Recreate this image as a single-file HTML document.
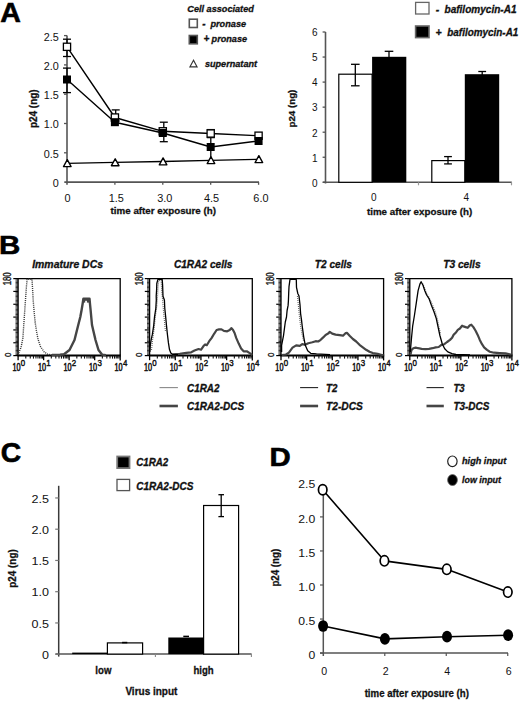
<!DOCTYPE html>
<html><head><meta charset="utf-8"><style>
html,body{margin:0;padding:0;background:#fff;}
svg{display:block;font-family:"Liberation Sans", sans-serif;}
</style></head><body>
<svg width="520" height="702" viewBox="0 0 520 702">
<rect x="0" y="0" width="520" height="702" fill="#fff"/>
<text x="0.2" y="22.4" font-size="27.5" font-weight="bold" font-style="normal" text-anchor="start" fill="#000" textLength="20.6" lengthAdjust="spacingAndGlyphs" stroke="#000" stroke-width="0.6">A</text>
<text x="-0.9" y="253.9" font-size="26.3" font-weight="bold" font-style="normal" text-anchor="start" fill="#000" textLength="21.3" lengthAdjust="spacingAndGlyphs" stroke="#000" stroke-width="0.6">B</text>
<text x="0.8" y="461.9" font-size="27.6" font-weight="bold" font-style="normal" text-anchor="start" fill="#000" textLength="20.4" lengthAdjust="spacingAndGlyphs" stroke="#000" stroke-width="0.6">C</text>
<text x="269.6" y="466.3" font-size="26.3" font-weight="bold" font-style="normal" text-anchor="start" fill="#000" textLength="21.2" lengthAdjust="spacingAndGlyphs" stroke="#000" stroke-width="0.6">D</text>
<line x1="67" y1="35.6" x2="67" y2="184.8" stroke="#555" stroke-width="1.6"/>
<line x1="64.3" y1="182.1" x2="259" y2="182.1" stroke="#555" stroke-width="1.6"/>
<line x1="64.0" y1="152.79999999999998" x2="67" y2="152.79999999999998" stroke="#555" stroke-width="1.3"/>
<line x1="64.0" y1="123.5" x2="67" y2="123.5" stroke="#555" stroke-width="1.3"/>
<line x1="64.0" y1="94.19999999999999" x2="67" y2="94.19999999999999" stroke="#555" stroke-width="1.3"/>
<line x1="64.0" y1="64.89999999999999" x2="67" y2="64.89999999999999" stroke="#555" stroke-width="1.3"/>
<line x1="64.0" y1="35.599999999999994" x2="67" y2="35.599999999999994" stroke="#555" stroke-width="1.3"/>
<line x1="114.895" y1="182.1" x2="114.895" y2="184.8" stroke="#555" stroke-width="1.3"/>
<line x1="162.79" y1="182.1" x2="162.79" y2="184.8" stroke="#555" stroke-width="1.3"/>
<line x1="210.685" y1="182.1" x2="210.685" y2="184.8" stroke="#555" stroke-width="1.3"/>
<line x1="258.58" y1="182.1" x2="258.58" y2="184.8" stroke="#555" stroke-width="1.3"/>
<text x="58.7" y="187.0" font-size="10.3" font-weight="normal" font-style="normal" text-anchor="end" fill="#111" textLength="6.016500000000001" lengthAdjust="spacingAndGlyphs">0</text>
<text x="58.7" y="157.7" font-size="10.3" font-weight="normal" font-style="normal" text-anchor="end" fill="#111" textLength="15.036000000000001" lengthAdjust="spacingAndGlyphs">0.5</text>
<text x="58.7" y="128.4" font-size="10.3" font-weight="normal" font-style="normal" text-anchor="end" fill="#111" textLength="15.036000000000001" lengthAdjust="spacingAndGlyphs">1.0</text>
<text x="58.7" y="99.1" font-size="10.3" font-weight="normal" font-style="normal" text-anchor="end" fill="#111" textLength="15.036000000000001" lengthAdjust="spacingAndGlyphs">1.5</text>
<text x="58.7" y="69.8" font-size="10.3" font-weight="normal" font-style="normal" text-anchor="end" fill="#111" textLength="15.036000000000001" lengthAdjust="spacingAndGlyphs">2.0</text>
<text x="58.7" y="40.49999999999999" font-size="10.3" font-weight="normal" font-style="normal" text-anchor="end" fill="#111" textLength="15.036000000000001" lengthAdjust="spacingAndGlyphs">2.5</text>
<text x="67.5" y="201.6" font-size="10.2" font-weight="normal" font-style="normal" text-anchor="middle" fill="#111" textLength="6.0669" lengthAdjust="spacingAndGlyphs">0</text>
<text x="116.3" y="201.6" font-size="10.2" font-weight="normal" font-style="normal" text-anchor="middle" fill="#111" textLength="15.172600000000001" lengthAdjust="spacingAndGlyphs">1.5</text>
<text x="164.8" y="201.6" font-size="10.2" font-weight="normal" font-style="normal" text-anchor="middle" fill="#111" textLength="15.172600000000001" lengthAdjust="spacingAndGlyphs">3.0</text>
<text x="211.6" y="201.6" font-size="10.2" font-weight="normal" font-style="normal" text-anchor="middle" fill="#111" textLength="15.172600000000001" lengthAdjust="spacingAndGlyphs">4.5</text>
<text x="260.9" y="201.6" font-size="10.2" font-weight="normal" font-style="normal" text-anchor="middle" fill="#111" textLength="15.172600000000001" lengthAdjust="spacingAndGlyphs">6.0</text>
<text x="163.3" y="213.8" font-size="9.8" font-weight="bold" font-style="normal" text-anchor="middle" fill="#111" textLength="105.4" lengthAdjust="spacingAndGlyphs" stroke="#111" stroke-width="0.28">time after exposure (h)</text>
<text transform="translate(36.6,108.7) rotate(-90)" x="0" y="0" font-size="10" font-weight="bold" text-anchor="middle" fill="#111" stroke="#111" stroke-width="0.28" textLength="38.7" lengthAdjust="spacingAndGlyphs">p24 (ng)</text>
<line x1="67" y1="39.2" x2="67" y2="56.5" stroke="#000" stroke-width="1.3"/>
<line x1="63" y1="39.2" x2="71" y2="39.2" stroke="#000" stroke-width="1.3"/>
<line x1="63" y1="56.5" x2="71" y2="56.5" stroke="#000" stroke-width="1.3"/>
<line x1="67" y1="68.1" x2="67" y2="92.6" stroke="#000" stroke-width="1.3"/>
<line x1="63" y1="68.1" x2="71" y2="68.1" stroke="#000" stroke-width="1.3"/>
<line x1="63" y1="92.6" x2="71" y2="92.6" stroke="#000" stroke-width="1.3"/>
<line x1="115.7" y1="109.9" x2="115.7" y2="121" stroke="#000" stroke-width="1.3"/>
<line x1="111.7" y1="109.9" x2="119.7" y2="109.9" stroke="#000" stroke-width="1.3"/>
<line x1="111.7" y1="121" x2="119.7" y2="121" stroke="#000" stroke-width="1.3"/>
<line x1="163.8" y1="122.2" x2="163.8" y2="141.7" stroke="#000" stroke-width="1.3"/>
<line x1="159.8" y1="122.2" x2="167.8" y2="122.2" stroke="#000" stroke-width="1.3"/>
<line x1="159.8" y1="141.7" x2="167.8" y2="141.7" stroke="#000" stroke-width="1.3"/>
<line x1="210.8" y1="129.6" x2="210.8" y2="137.6" stroke="#000" stroke-width="1.3"/>
<line x1="206.8" y1="129.6" x2="214.8" y2="129.6" stroke="#000" stroke-width="1.3"/>
<line x1="206.8" y1="137.6" x2="214.8" y2="137.6" stroke="#000" stroke-width="1.3"/>
<line x1="210.8" y1="137" x2="210.8" y2="157.5" stroke="#000" stroke-width="1.3"/>
<polyline points="67.00,163.30 114.89,162.40 162.79,161.50 210.69,160.30 258.58,159.30" fill="none" stroke="#000" stroke-width="1.3" stroke-linejoin="round"/>
<polyline points="67.00,46.80 114.89,117.50 162.79,131.30 210.69,133.50 258.58,135.70" fill="none" stroke="#000" stroke-width="1.4" stroke-linejoin="round"/>
<polyline points="67.00,79.50 114.89,122.20 162.79,133.00 210.69,147.00 258.58,141.00" fill="none" stroke="#000" stroke-width="1.4" stroke-linejoin="round"/>
<polygon points="67.30,159.70 63.50,166.60 71.10,166.60" fill="#fff" stroke="#000" stroke-width="1.35" stroke-linejoin="round"/>
<polygon points="115.19,158.80 111.39,165.70 118.99,165.70" fill="#fff" stroke="#000" stroke-width="1.35" stroke-linejoin="round"/>
<polygon points="163.09,157.90 159.29,164.80 166.89,164.80" fill="#fff" stroke="#000" stroke-width="1.35" stroke-linejoin="round"/>
<polygon points="210.99,156.70 207.19,163.60 214.78,163.60" fill="#fff" stroke="#000" stroke-width="1.35" stroke-linejoin="round"/>
<polygon points="258.88,155.70 255.08,162.60 262.68,162.60" fill="#fff" stroke="#000" stroke-width="1.35" stroke-linejoin="round"/>
<rect x="63.4" y="43.199999999999996" width="7.2" height="7.2" fill="#fff" stroke="#000" stroke-width="1.3"/>
<rect x="111.295" y="113.9" width="7.2" height="7.2" fill="#fff" stroke="#000" stroke-width="1.3"/>
<rect x="159.19" y="127.70000000000002" width="7.2" height="7.2" fill="#fff" stroke="#000" stroke-width="1.3"/>
<rect x="207.085" y="129.9" width="7.2" height="7.2" fill="#fff" stroke="#000" stroke-width="1.3"/>
<rect x="254.98" y="132.1" width="7.2" height="7.2" fill="#fff" stroke="#000" stroke-width="1.3"/>
<rect x="63.0" y="75.5" width="8" height="8" fill="#000" stroke="none" stroke-width="1"/>
<rect x="110.895" y="118.2" width="8" height="8" fill="#000" stroke="none" stroke-width="1"/>
<rect x="158.79" y="129.0" width="8" height="8" fill="#000" stroke="none" stroke-width="1"/>
<rect x="206.685" y="143.0" width="8" height="8" fill="#000" stroke="none" stroke-width="1"/>
<rect x="254.57999999999998" y="137.0" width="8" height="8" fill="#000" stroke="none" stroke-width="1"/>
<text x="187.3" y="12.0" font-size="9.3" font-weight="bold" font-style="italic" text-anchor="start" fill="#111" textLength="66.5" lengthAdjust="spacingAndGlyphs" stroke="#111" stroke-width="0.3">Cell associated</text>
<rect x="189.3" y="19.2" width="8" height="8.3" fill="#fff" stroke="#555" stroke-width="1.6"/>
<text x="202.2" y="26.5" font-size="10" font-weight="bold" font-style="italic" text-anchor="start" fill="#111" stroke="#111" stroke-width="0.3">-</text>
<text x="210.4" y="26.5" font-size="9.6" font-weight="bold" font-style="italic" text-anchor="start" fill="#111" textLength="35.7" lengthAdjust="spacingAndGlyphs" stroke="#111" stroke-width="0.3">pronase</text>
<rect x="189.3" y="35.5" width="8" height="8.3" fill="#000" stroke="#555" stroke-width="1.6"/>
<text x="203.5" y="42.0" font-size="10" font-weight="bold" font-style="italic" text-anchor="start" fill="#111" stroke="#111" stroke-width="0.3">+</text>
<text x="211.6" y="42.0" font-size="9.6" font-weight="bold" font-style="italic" text-anchor="start" fill="#111" textLength="35.5" lengthAdjust="spacingAndGlyphs" stroke="#111" stroke-width="0.3">pronase</text>
<polygon points="193.5,60.2 189.9,66.9 197.1,66.9" fill="#fff" stroke="#333" stroke-width="1.1"/>
<text x="204.9" y="66.6" font-size="9.4" font-weight="bold" font-style="italic" text-anchor="start" fill="#111" textLength="52.2" lengthAdjust="spacingAndGlyphs" stroke="#111" stroke-width="0.3">supernatant</text>
<line x1="325.5" y1="32" x2="325.5" y2="183.5" stroke="#555" stroke-width="1.6"/>
<line x1="322.8" y1="182.3" x2="511.8" y2="182.3" stroke="#555" stroke-width="1.6"/>
<line x1="322.6" y1="182.3" x2="325.5" y2="182.3" stroke="#555" stroke-width="1.3"/>
<text x="317.6" y="186.60000000000002" font-size="10" font-weight="normal" font-style="normal" text-anchor="end" fill="#111">0</text>
<line x1="322.6" y1="157.25" x2="325.5" y2="157.25" stroke="#555" stroke-width="1.3"/>
<text x="317.6" y="161.55" font-size="10" font-weight="normal" font-style="normal" text-anchor="end" fill="#111">1</text>
<line x1="322.6" y1="132.20000000000002" x2="325.5" y2="132.20000000000002" stroke="#555" stroke-width="1.3"/>
<text x="317.6" y="136.50000000000003" font-size="10" font-weight="normal" font-style="normal" text-anchor="end" fill="#111">2</text>
<line x1="322.6" y1="107.15" x2="325.5" y2="107.15" stroke="#555" stroke-width="1.3"/>
<text x="317.6" y="111.45" font-size="10" font-weight="normal" font-style="normal" text-anchor="end" fill="#111">3</text>
<line x1="322.6" y1="82.10000000000001" x2="325.5" y2="82.10000000000001" stroke="#555" stroke-width="1.3"/>
<text x="317.6" y="86.4" font-size="10" font-weight="normal" font-style="normal" text-anchor="end" fill="#111">4</text>
<line x1="322.6" y1="57.05000000000001" x2="325.5" y2="57.05000000000001" stroke="#555" stroke-width="1.3"/>
<text x="317.6" y="61.35000000000001" font-size="10" font-weight="normal" font-style="normal" text-anchor="end" fill="#111">5</text>
<line x1="322.6" y1="32.0" x2="325.5" y2="32.0" stroke="#555" stroke-width="1.3"/>
<text x="317.6" y="36.3" font-size="10" font-weight="normal" font-style="normal" text-anchor="end" fill="#111">6</text>
<line x1="418.5" y1="182.3" x2="418.5" y2="185.3" stroke="#999" stroke-width="1.2"/>
<line x1="511.5" y1="182.3" x2="511.5" y2="185.3" stroke="#999" stroke-width="1.2"/>
<rect x="338.8" y="74.2" width="33.3" height="108.1" fill="#fff" stroke="#000" stroke-width="1.2"/>
<rect x="372.1" y="56.8" width="34.2" height="125.5" fill="#000" stroke="none" stroke-width="1"/>
<rect x="431.8" y="160.6" width="33.0" height="21.7" fill="#fff" stroke="#000" stroke-width="1.2"/>
<rect x="464.8" y="74.2" width="34.4" height="108.1" fill="#000" stroke="none" stroke-width="1"/>
<line x1="355.3" y1="64.3" x2="355.3" y2="85.8" stroke="#000" stroke-width="1.3"/>
<line x1="351.0" y1="64.3" x2="359.6" y2="64.3" stroke="#000" stroke-width="1.3"/>
<line x1="351.0" y1="85.8" x2="359.6" y2="85.8" stroke="#000" stroke-width="1.3"/>
<line x1="389.0" y1="51.3" x2="389.0" y2="57.5" stroke="#000" stroke-width="1.3"/>
<line x1="384.7" y1="51.3" x2="393.3" y2="51.3" stroke="#000" stroke-width="1.3"/>
<line x1="448.0" y1="156.6" x2="448.0" y2="163.9" stroke="#000" stroke-width="1.3"/>
<line x1="444.1" y1="156.6" x2="451.9" y2="156.6" stroke="#000" stroke-width="1.3"/>
<line x1="444.1" y1="163.9" x2="451.9" y2="163.9" stroke="#000" stroke-width="1.3"/>
<line x1="482.2" y1="71.5" x2="482.2" y2="75" stroke="#000" stroke-width="1.3"/>
<line x1="478.3" y1="71.5" x2="486.1" y2="71.5" stroke="#000" stroke-width="1.3"/>
<text x="373.9" y="201.0" font-size="10" font-weight="normal" font-style="normal" text-anchor="middle" fill="#111">0</text>
<text x="466.2" y="201.0" font-size="10" font-weight="normal" font-style="normal" text-anchor="middle" fill="#111">4</text>
<text x="419.6" y="214.5" font-size="9.8" font-weight="bold" font-style="normal" text-anchor="middle" fill="#111" textLength="105.3" lengthAdjust="spacingAndGlyphs" stroke="#111" stroke-width="0.28">time after exposure (h)</text>
<text transform="translate(295.0,108.6) rotate(-90)" x="0" y="0" font-size="9.5" font-weight="bold" text-anchor="middle" fill="#111" stroke="#111" stroke-width="0.28" textLength="37.8" lengthAdjust="spacingAndGlyphs">p24 (ng)</text>
<rect x="415.6" y="2.4" width="13.4" height="11.6" fill="#fff" stroke="#666" stroke-width="1.3"/>
<text x="435.8" y="12.7" font-size="10.5" font-weight="bold" font-style="italic" text-anchor="start" fill="#111" stroke="#111" stroke-width="0.3">-</text>
<text x="444.5" y="12.7" font-size="10.5" font-weight="bold" font-style="italic" text-anchor="start" fill="#111" textLength="72" lengthAdjust="spacingAndGlyphs" stroke="#111" stroke-width="0.3">bafilomycin-A1</text>
<rect x="415.6" y="26.0" width="13.4" height="11.6" fill="#000" stroke="#666" stroke-width="1.6"/>
<text x="435.4" y="36.0" font-size="10.5" font-weight="bold" font-style="italic" text-anchor="start" fill="#111" stroke="#111" stroke-width="0.3">+</text>
<text x="447.3" y="36.2" font-size="10.5" font-weight="bold" font-style="italic" text-anchor="start" fill="#111" textLength="71.0" lengthAdjust="spacingAndGlyphs" stroke="#111" stroke-width="0.3">bafilomycin-A1</text>
<text x="67.6" y="267.9" font-size="10.1" font-weight="bold" font-style="italic" text-anchor="middle" fill="#111" textLength="70.8" lengthAdjust="spacingAndGlyphs" stroke="#111" stroke-width="0.3">Immature DCs</text>
<path d="M18.1,355.6 L18.1,278.6 L120.2,278.6 L120.2,355.6" fill="none" stroke="#000" stroke-width="1.3"/>
<line x1="17.5" y1="355.6" x2="120.8" y2="355.6" stroke="#000" stroke-width="2.0"/>
<line x1="13.3" y1="355.6" x2="18.1" y2="355.6" stroke="#000" stroke-width="1.2"/>
<line x1="15.500000000000002" y1="354.31666666666666" x2="18.1" y2="354.31666666666666" stroke="#000" stroke-width="0.8"/>
<line x1="15.500000000000002" y1="353.03333333333336" x2="18.1" y2="353.03333333333336" stroke="#000" stroke-width="0.8"/>
<line x1="15.500000000000002" y1="351.75" x2="18.1" y2="351.75" stroke="#000" stroke-width="0.8"/>
<line x1="15.500000000000002" y1="350.4666666666667" x2="18.1" y2="350.4666666666667" stroke="#000" stroke-width="0.8"/>
<line x1="15.500000000000002" y1="349.18333333333334" x2="18.1" y2="349.18333333333334" stroke="#000" stroke-width="0.8"/>
<line x1="15.500000000000002" y1="347.90000000000003" x2="18.1" y2="347.90000000000003" stroke="#000" stroke-width="0.8"/>
<line x1="15.500000000000002" y1="346.6166666666667" x2="18.1" y2="346.6166666666667" stroke="#000" stroke-width="0.8"/>
<line x1="15.500000000000002" y1="345.33333333333337" x2="18.1" y2="345.33333333333337" stroke="#000" stroke-width="0.8"/>
<line x1="15.500000000000002" y1="344.05" x2="18.1" y2="344.05" stroke="#000" stroke-width="0.8"/>
<line x1="13.3" y1="342.7666666666667" x2="18.1" y2="342.7666666666667" stroke="#000" stroke-width="1.2"/>
<line x1="15.500000000000002" y1="341.48333333333335" x2="18.1" y2="341.48333333333335" stroke="#000" stroke-width="0.8"/>
<line x1="15.500000000000002" y1="340.20000000000005" x2="18.1" y2="340.20000000000005" stroke="#000" stroke-width="0.8"/>
<line x1="15.500000000000002" y1="338.9166666666667" x2="18.1" y2="338.9166666666667" stroke="#000" stroke-width="0.8"/>
<line x1="15.500000000000002" y1="337.6333333333334" x2="18.1" y2="337.6333333333334" stroke="#000" stroke-width="0.8"/>
<line x1="15.500000000000002" y1="336.35" x2="18.1" y2="336.35" stroke="#000" stroke-width="0.8"/>
<line x1="15.500000000000002" y1="335.06666666666666" x2="18.1" y2="335.06666666666666" stroke="#000" stroke-width="0.8"/>
<line x1="15.500000000000002" y1="333.78333333333336" x2="18.1" y2="333.78333333333336" stroke="#000" stroke-width="0.8"/>
<line x1="15.500000000000002" y1="332.5" x2="18.1" y2="332.5" stroke="#000" stroke-width="0.8"/>
<line x1="15.500000000000002" y1="331.2166666666667" x2="18.1" y2="331.2166666666667" stroke="#000" stroke-width="0.8"/>
<line x1="13.3" y1="329.93333333333334" x2="18.1" y2="329.93333333333334" stroke="#000" stroke-width="1.2"/>
<line x1="15.500000000000002" y1="328.65000000000003" x2="18.1" y2="328.65000000000003" stroke="#000" stroke-width="0.8"/>
<line x1="15.500000000000002" y1="327.3666666666667" x2="18.1" y2="327.3666666666667" stroke="#000" stroke-width="0.8"/>
<line x1="15.500000000000002" y1="326.08333333333337" x2="18.1" y2="326.08333333333337" stroke="#000" stroke-width="0.8"/>
<line x1="15.500000000000002" y1="324.8" x2="18.1" y2="324.8" stroke="#000" stroke-width="0.8"/>
<line x1="15.500000000000002" y1="323.5166666666667" x2="18.1" y2="323.5166666666667" stroke="#000" stroke-width="0.8"/>
<line x1="15.500000000000002" y1="322.23333333333335" x2="18.1" y2="322.23333333333335" stroke="#000" stroke-width="0.8"/>
<line x1="15.500000000000002" y1="320.95000000000005" x2="18.1" y2="320.95000000000005" stroke="#000" stroke-width="0.8"/>
<line x1="15.500000000000002" y1="319.6666666666667" x2="18.1" y2="319.6666666666667" stroke="#000" stroke-width="0.8"/>
<line x1="15.500000000000002" y1="318.3833333333333" x2="18.1" y2="318.3833333333333" stroke="#000" stroke-width="0.8"/>
<line x1="13.3" y1="317.1" x2="18.1" y2="317.1" stroke="#000" stroke-width="1.2"/>
<line x1="15.500000000000002" y1="315.8166666666667" x2="18.1" y2="315.8166666666667" stroke="#000" stroke-width="0.8"/>
<line x1="15.500000000000002" y1="314.53333333333336" x2="18.1" y2="314.53333333333336" stroke="#000" stroke-width="0.8"/>
<line x1="15.500000000000002" y1="313.25" x2="18.1" y2="313.25" stroke="#000" stroke-width="0.8"/>
<line x1="15.500000000000002" y1="311.9666666666667" x2="18.1" y2="311.9666666666667" stroke="#000" stroke-width="0.8"/>
<line x1="15.500000000000002" y1="310.68333333333334" x2="18.1" y2="310.68333333333334" stroke="#000" stroke-width="0.8"/>
<line x1="15.500000000000002" y1="309.40000000000003" x2="18.1" y2="309.40000000000003" stroke="#000" stroke-width="0.8"/>
<line x1="15.500000000000002" y1="308.1166666666667" x2="18.1" y2="308.1166666666667" stroke="#000" stroke-width="0.8"/>
<line x1="15.500000000000002" y1="306.83333333333337" x2="18.1" y2="306.83333333333337" stroke="#000" stroke-width="0.8"/>
<line x1="15.500000000000002" y1="305.55" x2="18.1" y2="305.55" stroke="#000" stroke-width="0.8"/>
<line x1="13.3" y1="304.2666666666667" x2="18.1" y2="304.2666666666667" stroke="#000" stroke-width="1.2"/>
<line x1="15.500000000000002" y1="302.98333333333335" x2="18.1" y2="302.98333333333335" stroke="#000" stroke-width="0.8"/>
<line x1="15.500000000000002" y1="301.70000000000005" x2="18.1" y2="301.70000000000005" stroke="#000" stroke-width="0.8"/>
<line x1="15.500000000000002" y1="300.4166666666667" x2="18.1" y2="300.4166666666667" stroke="#000" stroke-width="0.8"/>
<line x1="15.500000000000002" y1="299.1333333333333" x2="18.1" y2="299.1333333333333" stroke="#000" stroke-width="0.8"/>
<line x1="15.500000000000002" y1="297.85" x2="18.1" y2="297.85" stroke="#000" stroke-width="0.8"/>
<line x1="15.500000000000002" y1="296.5666666666667" x2="18.1" y2="296.5666666666667" stroke="#000" stroke-width="0.8"/>
<line x1="15.500000000000002" y1="295.28333333333336" x2="18.1" y2="295.28333333333336" stroke="#000" stroke-width="0.8"/>
<line x1="15.500000000000002" y1="294.0" x2="18.1" y2="294.0" stroke="#000" stroke-width="0.8"/>
<line x1="15.500000000000002" y1="292.7166666666667" x2="18.1" y2="292.7166666666667" stroke="#000" stroke-width="0.8"/>
<line x1="13.3" y1="291.43333333333334" x2="18.1" y2="291.43333333333334" stroke="#000" stroke-width="1.2"/>
<line x1="15.500000000000002" y1="290.15000000000003" x2="18.1" y2="290.15000000000003" stroke="#000" stroke-width="0.8"/>
<line x1="15.500000000000002" y1="288.8666666666667" x2="18.1" y2="288.8666666666667" stroke="#000" stroke-width="0.8"/>
<line x1="15.500000000000002" y1="287.58333333333337" x2="18.1" y2="287.58333333333337" stroke="#000" stroke-width="0.8"/>
<line x1="15.500000000000002" y1="286.3" x2="18.1" y2="286.3" stroke="#000" stroke-width="0.8"/>
<line x1="15.500000000000002" y1="285.0166666666667" x2="18.1" y2="285.0166666666667" stroke="#000" stroke-width="0.8"/>
<line x1="15.500000000000002" y1="283.73333333333335" x2="18.1" y2="283.73333333333335" stroke="#000" stroke-width="0.8"/>
<line x1="15.500000000000002" y1="282.45000000000005" x2="18.1" y2="282.45000000000005" stroke="#000" stroke-width="0.8"/>
<line x1="15.500000000000002" y1="281.1666666666667" x2="18.1" y2="281.1666666666667" stroke="#000" stroke-width="0.8"/>
<line x1="15.500000000000002" y1="279.8833333333333" x2="18.1" y2="279.8833333333333" stroke="#000" stroke-width="0.8"/>
<line x1="13.3" y1="278.6" x2="18.1" y2="278.6" stroke="#000" stroke-width="1.2"/>
<line x1="18.1" y1="355.6" x2="18.1" y2="360.20000000000005" stroke="#000" stroke-width="1.3"/>
<line x1="25.783790639323122" y1="355.6" x2="25.783790639323122" y2="358.6" stroke="#111" stroke-width="1.1"/>
<line x1="30.278520026719384" y1="355.6" x2="30.278520026719384" y2="358.6" stroke="#111" stroke-width="1.1"/>
<line x1="33.46758127864624" y1="355.6" x2="33.46758127864624" y2="358.6" stroke="#111" stroke-width="1.1"/>
<line x1="35.94120936067688" y1="355.6" x2="35.94120936067688" y2="358.6" stroke="#111" stroke-width="1.1"/>
<line x1="37.962310666042505" y1="355.6" x2="37.962310666042505" y2="358.6" stroke="#111" stroke-width="1.1"/>
<line x1="39.6711274713639" y1="355.6" x2="39.6711274713639" y2="358.6" stroke="#111" stroke-width="1.1"/>
<line x1="41.15137191796936" y1="355.6" x2="41.15137191796936" y2="358.6" stroke="#111" stroke-width="1.1"/>
<line x1="42.45704005343877" y1="355.6" x2="42.45704005343877" y2="358.6" stroke="#111" stroke-width="1.1"/>
<line x1="43.625" y1="355.6" x2="43.625" y2="360.20000000000005" stroke="#000" stroke-width="1.3"/>
<line x1="51.30879063932312" y1="355.6" x2="51.30879063932312" y2="358.6" stroke="#111" stroke-width="1.1"/>
<line x1="55.80352002671938" y1="355.6" x2="55.80352002671938" y2="358.6" stroke="#111" stroke-width="1.1"/>
<line x1="58.99258127864624" y1="355.6" x2="58.99258127864624" y2="358.6" stroke="#111" stroke-width="1.1"/>
<line x1="61.46620936067688" y1="355.6" x2="61.46620936067688" y2="358.6" stroke="#111" stroke-width="1.1"/>
<line x1="63.487310666042504" y1="355.6" x2="63.487310666042504" y2="358.6" stroke="#111" stroke-width="1.1"/>
<line x1="65.19612747136391" y1="355.6" x2="65.19612747136391" y2="358.6" stroke="#111" stroke-width="1.1"/>
<line x1="66.67637191796936" y1="355.6" x2="66.67637191796936" y2="358.6" stroke="#111" stroke-width="1.1"/>
<line x1="67.98204005343877" y1="355.6" x2="67.98204005343877" y2="358.6" stroke="#111" stroke-width="1.1"/>
<line x1="69.15" y1="355.6" x2="69.15" y2="360.20000000000005" stroke="#000" stroke-width="1.3"/>
<line x1="76.83379063932313" y1="355.6" x2="76.83379063932313" y2="358.6" stroke="#111" stroke-width="1.1"/>
<line x1="81.32852002671939" y1="355.6" x2="81.32852002671939" y2="358.6" stroke="#111" stroke-width="1.1"/>
<line x1="84.51758127864625" y1="355.6" x2="84.51758127864625" y2="358.6" stroke="#111" stroke-width="1.1"/>
<line x1="86.99120936067686" y1="355.6" x2="86.99120936067686" y2="358.6" stroke="#111" stroke-width="1.1"/>
<line x1="89.01231066604251" y1="355.6" x2="89.01231066604251" y2="358.6" stroke="#111" stroke-width="1.1"/>
<line x1="90.7211274713639" y1="355.6" x2="90.7211274713639" y2="358.6" stroke="#111" stroke-width="1.1"/>
<line x1="92.20137191796937" y1="355.6" x2="92.20137191796937" y2="358.6" stroke="#111" stroke-width="1.1"/>
<line x1="93.50704005343877" y1="355.6" x2="93.50704005343877" y2="358.6" stroke="#111" stroke-width="1.1"/>
<line x1="94.67499999999998" y1="355.6" x2="94.67499999999998" y2="360.20000000000005" stroke="#000" stroke-width="1.3"/>
<line x1="102.35879063932313" y1="355.6" x2="102.35879063932313" y2="358.6" stroke="#111" stroke-width="1.1"/>
<line x1="106.8535200267194" y1="355.6" x2="106.8535200267194" y2="358.6" stroke="#111" stroke-width="1.1"/>
<line x1="110.04258127864625" y1="355.6" x2="110.04258127864625" y2="358.6" stroke="#111" stroke-width="1.1"/>
<line x1="112.51620936067687" y1="355.6" x2="112.51620936067687" y2="358.6" stroke="#111" stroke-width="1.1"/>
<line x1="114.53731066604252" y1="355.6" x2="114.53731066604252" y2="358.6" stroke="#111" stroke-width="1.1"/>
<line x1="116.2461274713639" y1="355.6" x2="116.2461274713639" y2="358.6" stroke="#111" stroke-width="1.1"/>
<line x1="117.72637191796937" y1="355.6" x2="117.72637191796937" y2="358.6" stroke="#111" stroke-width="1.1"/>
<line x1="119.03204005343875" y1="355.6" x2="119.03204005343875" y2="358.6" stroke="#111" stroke-width="1.1"/>
<line x1="120.2" y1="355.6" x2="120.2" y2="360.40000000000003" stroke="#000" stroke-width="1.3"/>
<text x="16.5" y="370.7" font-size="10.3" font-weight="normal" font-style="normal" text-anchor="middle" fill="#111" textLength="8.1" lengthAdjust="spacingAndGlyphs" stroke="#111" stroke-width="0.55">10</text>
<text x="23.0" y="365.5" font-size="9.4" font-weight="normal" font-style="normal" text-anchor="middle" fill="#111" textLength="4.4" lengthAdjust="spacingAndGlyphs" stroke="#111" stroke-width="0.45">0</text>
<text x="42.025" y="370.7" font-size="10.3" font-weight="normal" font-style="normal" text-anchor="middle" fill="#111" textLength="8.1" lengthAdjust="spacingAndGlyphs" stroke="#111" stroke-width="0.55">10</text>
<text x="48.525" y="365.5" font-size="9.4" font-weight="normal" font-style="normal" text-anchor="middle" fill="#111" textLength="4.4" lengthAdjust="spacingAndGlyphs" stroke="#111" stroke-width="0.45">1</text>
<text x="67.55000000000001" y="370.7" font-size="10.3" font-weight="normal" font-style="normal" text-anchor="middle" fill="#111" textLength="8.1" lengthAdjust="spacingAndGlyphs" stroke="#111" stroke-width="0.55">10</text>
<text x="74.05000000000001" y="365.5" font-size="9.4" font-weight="normal" font-style="normal" text-anchor="middle" fill="#111" textLength="4.4" lengthAdjust="spacingAndGlyphs" stroke="#111" stroke-width="0.45">2</text>
<text x="93.07499999999999" y="370.7" font-size="10.3" font-weight="normal" font-style="normal" text-anchor="middle" fill="#111" textLength="8.1" lengthAdjust="spacingAndGlyphs" stroke="#111" stroke-width="0.55">10</text>
<text x="99.57499999999999" y="365.5" font-size="9.4" font-weight="normal" font-style="normal" text-anchor="middle" fill="#111" textLength="4.4" lengthAdjust="spacingAndGlyphs" stroke="#111" stroke-width="0.45">3</text>
<text x="118.6" y="370.7" font-size="10.3" font-weight="normal" font-style="normal" text-anchor="middle" fill="#111" textLength="8.1" lengthAdjust="spacingAndGlyphs" stroke="#111" stroke-width="0.55">10</text>
<text x="125.1" y="365.5" font-size="9.4" font-weight="normal" font-style="normal" text-anchor="middle" fill="#111" textLength="4.4" lengthAdjust="spacingAndGlyphs" stroke="#111" stroke-width="0.45">4</text>
<text transform="translate(11.200000000000001,278.8) rotate(-90)" font-size="10" text-anchor="middle" fill="#111" stroke="#111" stroke-width="0.35" textLength="12.9" lengthAdjust="spacingAndGlyphs">180</text>
<text transform="translate(10.700000000000001,354.70000000000005) rotate(-90)" font-size="9.2" text-anchor="middle" fill="#111" stroke="#111" stroke-width="0.35" textLength="4.4" lengthAdjust="spacingAndGlyphs">0</text>
<text x="203.2" y="267.9" font-size="10.1" font-weight="bold" font-style="italic" text-anchor="middle" fill="#111" textLength="58.6" lengthAdjust="spacingAndGlyphs" stroke="#111" stroke-width="0.3">C1RA2 cells</text>
<path d="M149.6,355.6 L149.6,278.6 L252.3,278.6 L252.3,355.6" fill="none" stroke="#000" stroke-width="1.3"/>
<line x1="149.0" y1="355.6" x2="252.9" y2="355.6" stroke="#000" stroke-width="2.0"/>
<line x1="144.79999999999998" y1="355.6" x2="149.6" y2="355.6" stroke="#000" stroke-width="1.2"/>
<line x1="147.0" y1="354.31666666666666" x2="149.6" y2="354.31666666666666" stroke="#000" stroke-width="0.8"/>
<line x1="147.0" y1="353.03333333333336" x2="149.6" y2="353.03333333333336" stroke="#000" stroke-width="0.8"/>
<line x1="147.0" y1="351.75" x2="149.6" y2="351.75" stroke="#000" stroke-width="0.8"/>
<line x1="147.0" y1="350.4666666666667" x2="149.6" y2="350.4666666666667" stroke="#000" stroke-width="0.8"/>
<line x1="147.0" y1="349.18333333333334" x2="149.6" y2="349.18333333333334" stroke="#000" stroke-width="0.8"/>
<line x1="147.0" y1="347.90000000000003" x2="149.6" y2="347.90000000000003" stroke="#000" stroke-width="0.8"/>
<line x1="147.0" y1="346.6166666666667" x2="149.6" y2="346.6166666666667" stroke="#000" stroke-width="0.8"/>
<line x1="147.0" y1="345.33333333333337" x2="149.6" y2="345.33333333333337" stroke="#000" stroke-width="0.8"/>
<line x1="147.0" y1="344.05" x2="149.6" y2="344.05" stroke="#000" stroke-width="0.8"/>
<line x1="144.79999999999998" y1="342.7666666666667" x2="149.6" y2="342.7666666666667" stroke="#000" stroke-width="1.2"/>
<line x1="147.0" y1="341.48333333333335" x2="149.6" y2="341.48333333333335" stroke="#000" stroke-width="0.8"/>
<line x1="147.0" y1="340.20000000000005" x2="149.6" y2="340.20000000000005" stroke="#000" stroke-width="0.8"/>
<line x1="147.0" y1="338.9166666666667" x2="149.6" y2="338.9166666666667" stroke="#000" stroke-width="0.8"/>
<line x1="147.0" y1="337.6333333333334" x2="149.6" y2="337.6333333333334" stroke="#000" stroke-width="0.8"/>
<line x1="147.0" y1="336.35" x2="149.6" y2="336.35" stroke="#000" stroke-width="0.8"/>
<line x1="147.0" y1="335.06666666666666" x2="149.6" y2="335.06666666666666" stroke="#000" stroke-width="0.8"/>
<line x1="147.0" y1="333.78333333333336" x2="149.6" y2="333.78333333333336" stroke="#000" stroke-width="0.8"/>
<line x1="147.0" y1="332.5" x2="149.6" y2="332.5" stroke="#000" stroke-width="0.8"/>
<line x1="147.0" y1="331.2166666666667" x2="149.6" y2="331.2166666666667" stroke="#000" stroke-width="0.8"/>
<line x1="144.79999999999998" y1="329.93333333333334" x2="149.6" y2="329.93333333333334" stroke="#000" stroke-width="1.2"/>
<line x1="147.0" y1="328.65000000000003" x2="149.6" y2="328.65000000000003" stroke="#000" stroke-width="0.8"/>
<line x1="147.0" y1="327.3666666666667" x2="149.6" y2="327.3666666666667" stroke="#000" stroke-width="0.8"/>
<line x1="147.0" y1="326.08333333333337" x2="149.6" y2="326.08333333333337" stroke="#000" stroke-width="0.8"/>
<line x1="147.0" y1="324.8" x2="149.6" y2="324.8" stroke="#000" stroke-width="0.8"/>
<line x1="147.0" y1="323.5166666666667" x2="149.6" y2="323.5166666666667" stroke="#000" stroke-width="0.8"/>
<line x1="147.0" y1="322.23333333333335" x2="149.6" y2="322.23333333333335" stroke="#000" stroke-width="0.8"/>
<line x1="147.0" y1="320.95000000000005" x2="149.6" y2="320.95000000000005" stroke="#000" stroke-width="0.8"/>
<line x1="147.0" y1="319.6666666666667" x2="149.6" y2="319.6666666666667" stroke="#000" stroke-width="0.8"/>
<line x1="147.0" y1="318.3833333333333" x2="149.6" y2="318.3833333333333" stroke="#000" stroke-width="0.8"/>
<line x1="144.79999999999998" y1="317.1" x2="149.6" y2="317.1" stroke="#000" stroke-width="1.2"/>
<line x1="147.0" y1="315.8166666666667" x2="149.6" y2="315.8166666666667" stroke="#000" stroke-width="0.8"/>
<line x1="147.0" y1="314.53333333333336" x2="149.6" y2="314.53333333333336" stroke="#000" stroke-width="0.8"/>
<line x1="147.0" y1="313.25" x2="149.6" y2="313.25" stroke="#000" stroke-width="0.8"/>
<line x1="147.0" y1="311.9666666666667" x2="149.6" y2="311.9666666666667" stroke="#000" stroke-width="0.8"/>
<line x1="147.0" y1="310.68333333333334" x2="149.6" y2="310.68333333333334" stroke="#000" stroke-width="0.8"/>
<line x1="147.0" y1="309.40000000000003" x2="149.6" y2="309.40000000000003" stroke="#000" stroke-width="0.8"/>
<line x1="147.0" y1="308.1166666666667" x2="149.6" y2="308.1166666666667" stroke="#000" stroke-width="0.8"/>
<line x1="147.0" y1="306.83333333333337" x2="149.6" y2="306.83333333333337" stroke="#000" stroke-width="0.8"/>
<line x1="147.0" y1="305.55" x2="149.6" y2="305.55" stroke="#000" stroke-width="0.8"/>
<line x1="144.79999999999998" y1="304.2666666666667" x2="149.6" y2="304.2666666666667" stroke="#000" stroke-width="1.2"/>
<line x1="147.0" y1="302.98333333333335" x2="149.6" y2="302.98333333333335" stroke="#000" stroke-width="0.8"/>
<line x1="147.0" y1="301.70000000000005" x2="149.6" y2="301.70000000000005" stroke="#000" stroke-width="0.8"/>
<line x1="147.0" y1="300.4166666666667" x2="149.6" y2="300.4166666666667" stroke="#000" stroke-width="0.8"/>
<line x1="147.0" y1="299.1333333333333" x2="149.6" y2="299.1333333333333" stroke="#000" stroke-width="0.8"/>
<line x1="147.0" y1="297.85" x2="149.6" y2="297.85" stroke="#000" stroke-width="0.8"/>
<line x1="147.0" y1="296.5666666666667" x2="149.6" y2="296.5666666666667" stroke="#000" stroke-width="0.8"/>
<line x1="147.0" y1="295.28333333333336" x2="149.6" y2="295.28333333333336" stroke="#000" stroke-width="0.8"/>
<line x1="147.0" y1="294.0" x2="149.6" y2="294.0" stroke="#000" stroke-width="0.8"/>
<line x1="147.0" y1="292.7166666666667" x2="149.6" y2="292.7166666666667" stroke="#000" stroke-width="0.8"/>
<line x1="144.79999999999998" y1="291.43333333333334" x2="149.6" y2="291.43333333333334" stroke="#000" stroke-width="1.2"/>
<line x1="147.0" y1="290.15000000000003" x2="149.6" y2="290.15000000000003" stroke="#000" stroke-width="0.8"/>
<line x1="147.0" y1="288.8666666666667" x2="149.6" y2="288.8666666666667" stroke="#000" stroke-width="0.8"/>
<line x1="147.0" y1="287.58333333333337" x2="149.6" y2="287.58333333333337" stroke="#000" stroke-width="0.8"/>
<line x1="147.0" y1="286.3" x2="149.6" y2="286.3" stroke="#000" stroke-width="0.8"/>
<line x1="147.0" y1="285.0166666666667" x2="149.6" y2="285.0166666666667" stroke="#000" stroke-width="0.8"/>
<line x1="147.0" y1="283.73333333333335" x2="149.6" y2="283.73333333333335" stroke="#000" stroke-width="0.8"/>
<line x1="147.0" y1="282.45000000000005" x2="149.6" y2="282.45000000000005" stroke="#000" stroke-width="0.8"/>
<line x1="147.0" y1="281.1666666666667" x2="149.6" y2="281.1666666666667" stroke="#000" stroke-width="0.8"/>
<line x1="147.0" y1="279.8833333333333" x2="149.6" y2="279.8833333333333" stroke="#000" stroke-width="0.8"/>
<line x1="144.79999999999998" y1="278.6" x2="149.6" y2="278.6" stroke="#000" stroke-width="1.2"/>
<line x1="149.6" y1="355.6" x2="149.6" y2="360.20000000000005" stroke="#000" stroke-width="1.3"/>
<line x1="157.3289451386727" y1="355.6" x2="157.3289451386727" y2="358.6" stroke="#111" stroke-width="1.1"/>
<line x1="161.85008821492733" y1="355.6" x2="161.85008821492733" y2="358.6" stroke="#111" stroke-width="1.1"/>
<line x1="165.05789027734542" y1="355.6" x2="165.05789027734542" y2="358.6" stroke="#111" stroke-width="1.1"/>
<line x1="167.5460548613273" y1="355.6" x2="167.5460548613273" y2="358.6" stroke="#111" stroke-width="1.1"/>
<line x1="169.57903335360004" y1="355.6" x2="169.57903335360004" y2="358.6" stroke="#111" stroke-width="1.1"/>
<line x1="171.29789217736604" y1="355.6" x2="171.29789217736604" y2="358.6" stroke="#111" stroke-width="1.1"/>
<line x1="172.78683541601816" y1="355.6" x2="172.78683541601816" y2="358.6" stroke="#111" stroke-width="1.1"/>
<line x1="174.10017642985466" y1="355.6" x2="174.10017642985466" y2="358.6" stroke="#111" stroke-width="1.1"/>
<line x1="175.275" y1="355.6" x2="175.275" y2="360.20000000000005" stroke="#000" stroke-width="1.3"/>
<line x1="183.00394513867272" y1="355.6" x2="183.00394513867272" y2="358.6" stroke="#111" stroke-width="1.1"/>
<line x1="187.52508821492734" y1="355.6" x2="187.52508821492734" y2="358.6" stroke="#111" stroke-width="1.1"/>
<line x1="190.73289027734543" y1="355.6" x2="190.73289027734543" y2="358.6" stroke="#111" stroke-width="1.1"/>
<line x1="193.22105486132727" y1="355.6" x2="193.22105486132727" y2="358.6" stroke="#111" stroke-width="1.1"/>
<line x1="195.25403335360005" y1="355.6" x2="195.25403335360005" y2="358.6" stroke="#111" stroke-width="1.1"/>
<line x1="196.97289217736605" y1="355.6" x2="196.97289217736605" y2="358.6" stroke="#111" stroke-width="1.1"/>
<line x1="198.46183541601815" y1="355.6" x2="198.46183541601815" y2="358.6" stroke="#111" stroke-width="1.1"/>
<line x1="199.77517642985467" y1="355.6" x2="199.77517642985467" y2="358.6" stroke="#111" stroke-width="1.1"/>
<line x1="200.95" y1="355.6" x2="200.95" y2="360.20000000000005" stroke="#000" stroke-width="1.3"/>
<line x1="208.67894513867273" y1="355.6" x2="208.67894513867273" y2="358.6" stroke="#111" stroke-width="1.1"/>
<line x1="213.20008821492735" y1="355.6" x2="213.20008821492735" y2="358.6" stroke="#111" stroke-width="1.1"/>
<line x1="216.40789027734544" y1="355.6" x2="216.40789027734544" y2="358.6" stroke="#111" stroke-width="1.1"/>
<line x1="218.8960548613273" y1="355.6" x2="218.8960548613273" y2="358.6" stroke="#111" stroke-width="1.1"/>
<line x1="220.92903335360006" y1="355.6" x2="220.92903335360006" y2="358.6" stroke="#111" stroke-width="1.1"/>
<line x1="222.64789217736603" y1="355.6" x2="222.64789217736603" y2="358.6" stroke="#111" stroke-width="1.1"/>
<line x1="224.13683541601816" y1="355.6" x2="224.13683541601816" y2="358.6" stroke="#111" stroke-width="1.1"/>
<line x1="225.45017642985465" y1="355.6" x2="225.45017642985465" y2="358.6" stroke="#111" stroke-width="1.1"/>
<line x1="226.625" y1="355.6" x2="226.625" y2="360.20000000000005" stroke="#000" stroke-width="1.3"/>
<line x1="234.3539451386727" y1="355.6" x2="234.3539451386727" y2="358.6" stroke="#111" stroke-width="1.1"/>
<line x1="238.87508821492736" y1="355.6" x2="238.87508821492736" y2="358.6" stroke="#111" stroke-width="1.1"/>
<line x1="242.08289027734543" y1="355.6" x2="242.08289027734543" y2="358.6" stroke="#111" stroke-width="1.1"/>
<line x1="244.5710548613273" y1="355.6" x2="244.5710548613273" y2="358.6" stroke="#111" stroke-width="1.1"/>
<line x1="246.60403335360007" y1="355.6" x2="246.60403335360007" y2="358.6" stroke="#111" stroke-width="1.1"/>
<line x1="248.32289217736604" y1="355.6" x2="248.32289217736604" y2="358.6" stroke="#111" stroke-width="1.1"/>
<line x1="249.81183541601817" y1="355.6" x2="249.81183541601817" y2="358.6" stroke="#111" stroke-width="1.1"/>
<line x1="251.12517642985466" y1="355.6" x2="251.12517642985466" y2="358.6" stroke="#111" stroke-width="1.1"/>
<line x1="252.3" y1="355.6" x2="252.3" y2="360.40000000000003" stroke="#000" stroke-width="1.3"/>
<text x="148.0" y="370.7" font-size="10.3" font-weight="normal" font-style="normal" text-anchor="middle" fill="#111" textLength="8.1" lengthAdjust="spacingAndGlyphs" stroke="#111" stroke-width="0.55">10</text>
<text x="154.5" y="365.5" font-size="9.4" font-weight="normal" font-style="normal" text-anchor="middle" fill="#111" textLength="4.4" lengthAdjust="spacingAndGlyphs" stroke="#111" stroke-width="0.45">0</text>
<text x="173.675" y="370.7" font-size="10.3" font-weight="normal" font-style="normal" text-anchor="middle" fill="#111" textLength="8.1" lengthAdjust="spacingAndGlyphs" stroke="#111" stroke-width="0.55">10</text>
<text x="180.175" y="365.5" font-size="9.4" font-weight="normal" font-style="normal" text-anchor="middle" fill="#111" textLength="4.4" lengthAdjust="spacingAndGlyphs" stroke="#111" stroke-width="0.45">1</text>
<text x="199.35" y="370.7" font-size="10.3" font-weight="normal" font-style="normal" text-anchor="middle" fill="#111" textLength="8.1" lengthAdjust="spacingAndGlyphs" stroke="#111" stroke-width="0.55">10</text>
<text x="205.85" y="365.5" font-size="9.4" font-weight="normal" font-style="normal" text-anchor="middle" fill="#111" textLength="4.4" lengthAdjust="spacingAndGlyphs" stroke="#111" stroke-width="0.45">2</text>
<text x="225.025" y="370.7" font-size="10.3" font-weight="normal" font-style="normal" text-anchor="middle" fill="#111" textLength="8.1" lengthAdjust="spacingAndGlyphs" stroke="#111" stroke-width="0.55">10</text>
<text x="231.525" y="365.5" font-size="9.4" font-weight="normal" font-style="normal" text-anchor="middle" fill="#111" textLength="4.4" lengthAdjust="spacingAndGlyphs" stroke="#111" stroke-width="0.45">3</text>
<text x="250.70000000000002" y="370.7" font-size="10.3" font-weight="normal" font-style="normal" text-anchor="middle" fill="#111" textLength="8.1" lengthAdjust="spacingAndGlyphs" stroke="#111" stroke-width="0.55">10</text>
<text x="257.2" y="365.5" font-size="9.4" font-weight="normal" font-style="normal" text-anchor="middle" fill="#111" textLength="4.4" lengthAdjust="spacingAndGlyphs" stroke="#111" stroke-width="0.45">4</text>
<text transform="translate(142.7,278.8) rotate(-90)" font-size="10" text-anchor="middle" fill="#111" stroke="#111" stroke-width="0.35" textLength="12.9" lengthAdjust="spacingAndGlyphs">180</text>
<text transform="translate(142.2,354.70000000000005) rotate(-90)" font-size="9.2" text-anchor="middle" fill="#111" stroke="#111" stroke-width="0.35" textLength="4.4" lengthAdjust="spacingAndGlyphs">0</text>
<text x="333.4" y="267.9" font-size="10.1" font-weight="bold" font-style="italic" text-anchor="middle" fill="#111" textLength="37.2" lengthAdjust="spacingAndGlyphs" stroke="#111" stroke-width="0.3">T2 cells</text>
<path d="M281.0,355.6 L281.0,278.6 L383.6,278.6 L383.6,355.6" fill="none" stroke="#000" stroke-width="1.3"/>
<line x1="280.4" y1="355.6" x2="384.20000000000005" y2="355.6" stroke="#000" stroke-width="2.0"/>
<line x1="276.2" y1="355.6" x2="281.0" y2="355.6" stroke="#000" stroke-width="1.2"/>
<line x1="278.4" y1="354.31666666666666" x2="281.0" y2="354.31666666666666" stroke="#000" stroke-width="0.8"/>
<line x1="278.4" y1="353.03333333333336" x2="281.0" y2="353.03333333333336" stroke="#000" stroke-width="0.8"/>
<line x1="278.4" y1="351.75" x2="281.0" y2="351.75" stroke="#000" stroke-width="0.8"/>
<line x1="278.4" y1="350.4666666666667" x2="281.0" y2="350.4666666666667" stroke="#000" stroke-width="0.8"/>
<line x1="278.4" y1="349.18333333333334" x2="281.0" y2="349.18333333333334" stroke="#000" stroke-width="0.8"/>
<line x1="278.4" y1="347.90000000000003" x2="281.0" y2="347.90000000000003" stroke="#000" stroke-width="0.8"/>
<line x1="278.4" y1="346.6166666666667" x2="281.0" y2="346.6166666666667" stroke="#000" stroke-width="0.8"/>
<line x1="278.4" y1="345.33333333333337" x2="281.0" y2="345.33333333333337" stroke="#000" stroke-width="0.8"/>
<line x1="278.4" y1="344.05" x2="281.0" y2="344.05" stroke="#000" stroke-width="0.8"/>
<line x1="276.2" y1="342.7666666666667" x2="281.0" y2="342.7666666666667" stroke="#000" stroke-width="1.2"/>
<line x1="278.4" y1="341.48333333333335" x2="281.0" y2="341.48333333333335" stroke="#000" stroke-width="0.8"/>
<line x1="278.4" y1="340.20000000000005" x2="281.0" y2="340.20000000000005" stroke="#000" stroke-width="0.8"/>
<line x1="278.4" y1="338.9166666666667" x2="281.0" y2="338.9166666666667" stroke="#000" stroke-width="0.8"/>
<line x1="278.4" y1="337.6333333333334" x2="281.0" y2="337.6333333333334" stroke="#000" stroke-width="0.8"/>
<line x1="278.4" y1="336.35" x2="281.0" y2="336.35" stroke="#000" stroke-width="0.8"/>
<line x1="278.4" y1="335.06666666666666" x2="281.0" y2="335.06666666666666" stroke="#000" stroke-width="0.8"/>
<line x1="278.4" y1="333.78333333333336" x2="281.0" y2="333.78333333333336" stroke="#000" stroke-width="0.8"/>
<line x1="278.4" y1="332.5" x2="281.0" y2="332.5" stroke="#000" stroke-width="0.8"/>
<line x1="278.4" y1="331.2166666666667" x2="281.0" y2="331.2166666666667" stroke="#000" stroke-width="0.8"/>
<line x1="276.2" y1="329.93333333333334" x2="281.0" y2="329.93333333333334" stroke="#000" stroke-width="1.2"/>
<line x1="278.4" y1="328.65000000000003" x2="281.0" y2="328.65000000000003" stroke="#000" stroke-width="0.8"/>
<line x1="278.4" y1="327.3666666666667" x2="281.0" y2="327.3666666666667" stroke="#000" stroke-width="0.8"/>
<line x1="278.4" y1="326.08333333333337" x2="281.0" y2="326.08333333333337" stroke="#000" stroke-width="0.8"/>
<line x1="278.4" y1="324.8" x2="281.0" y2="324.8" stroke="#000" stroke-width="0.8"/>
<line x1="278.4" y1="323.5166666666667" x2="281.0" y2="323.5166666666667" stroke="#000" stroke-width="0.8"/>
<line x1="278.4" y1="322.23333333333335" x2="281.0" y2="322.23333333333335" stroke="#000" stroke-width="0.8"/>
<line x1="278.4" y1="320.95000000000005" x2="281.0" y2="320.95000000000005" stroke="#000" stroke-width="0.8"/>
<line x1="278.4" y1="319.6666666666667" x2="281.0" y2="319.6666666666667" stroke="#000" stroke-width="0.8"/>
<line x1="278.4" y1="318.3833333333333" x2="281.0" y2="318.3833333333333" stroke="#000" stroke-width="0.8"/>
<line x1="276.2" y1="317.1" x2="281.0" y2="317.1" stroke="#000" stroke-width="1.2"/>
<line x1="278.4" y1="315.8166666666667" x2="281.0" y2="315.8166666666667" stroke="#000" stroke-width="0.8"/>
<line x1="278.4" y1="314.53333333333336" x2="281.0" y2="314.53333333333336" stroke="#000" stroke-width="0.8"/>
<line x1="278.4" y1="313.25" x2="281.0" y2="313.25" stroke="#000" stroke-width="0.8"/>
<line x1="278.4" y1="311.9666666666667" x2="281.0" y2="311.9666666666667" stroke="#000" stroke-width="0.8"/>
<line x1="278.4" y1="310.68333333333334" x2="281.0" y2="310.68333333333334" stroke="#000" stroke-width="0.8"/>
<line x1="278.4" y1="309.40000000000003" x2="281.0" y2="309.40000000000003" stroke="#000" stroke-width="0.8"/>
<line x1="278.4" y1="308.1166666666667" x2="281.0" y2="308.1166666666667" stroke="#000" stroke-width="0.8"/>
<line x1="278.4" y1="306.83333333333337" x2="281.0" y2="306.83333333333337" stroke="#000" stroke-width="0.8"/>
<line x1="278.4" y1="305.55" x2="281.0" y2="305.55" stroke="#000" stroke-width="0.8"/>
<line x1="276.2" y1="304.2666666666667" x2="281.0" y2="304.2666666666667" stroke="#000" stroke-width="1.2"/>
<line x1="278.4" y1="302.98333333333335" x2="281.0" y2="302.98333333333335" stroke="#000" stroke-width="0.8"/>
<line x1="278.4" y1="301.70000000000005" x2="281.0" y2="301.70000000000005" stroke="#000" stroke-width="0.8"/>
<line x1="278.4" y1="300.4166666666667" x2="281.0" y2="300.4166666666667" stroke="#000" stroke-width="0.8"/>
<line x1="278.4" y1="299.1333333333333" x2="281.0" y2="299.1333333333333" stroke="#000" stroke-width="0.8"/>
<line x1="278.4" y1="297.85" x2="281.0" y2="297.85" stroke="#000" stroke-width="0.8"/>
<line x1="278.4" y1="296.5666666666667" x2="281.0" y2="296.5666666666667" stroke="#000" stroke-width="0.8"/>
<line x1="278.4" y1="295.28333333333336" x2="281.0" y2="295.28333333333336" stroke="#000" stroke-width="0.8"/>
<line x1="278.4" y1="294.0" x2="281.0" y2="294.0" stroke="#000" stroke-width="0.8"/>
<line x1="278.4" y1="292.7166666666667" x2="281.0" y2="292.7166666666667" stroke="#000" stroke-width="0.8"/>
<line x1="276.2" y1="291.43333333333334" x2="281.0" y2="291.43333333333334" stroke="#000" stroke-width="1.2"/>
<line x1="278.4" y1="290.15000000000003" x2="281.0" y2="290.15000000000003" stroke="#000" stroke-width="0.8"/>
<line x1="278.4" y1="288.8666666666667" x2="281.0" y2="288.8666666666667" stroke="#000" stroke-width="0.8"/>
<line x1="278.4" y1="287.58333333333337" x2="281.0" y2="287.58333333333337" stroke="#000" stroke-width="0.8"/>
<line x1="278.4" y1="286.3" x2="281.0" y2="286.3" stroke="#000" stroke-width="0.8"/>
<line x1="278.4" y1="285.0166666666667" x2="281.0" y2="285.0166666666667" stroke="#000" stroke-width="0.8"/>
<line x1="278.4" y1="283.73333333333335" x2="281.0" y2="283.73333333333335" stroke="#000" stroke-width="0.8"/>
<line x1="278.4" y1="282.45000000000005" x2="281.0" y2="282.45000000000005" stroke="#000" stroke-width="0.8"/>
<line x1="278.4" y1="281.1666666666667" x2="281.0" y2="281.1666666666667" stroke="#000" stroke-width="0.8"/>
<line x1="278.4" y1="279.8833333333333" x2="281.0" y2="279.8833333333333" stroke="#000" stroke-width="0.8"/>
<line x1="276.2" y1="278.6" x2="281.0" y2="278.6" stroke="#000" stroke-width="1.2"/>
<line x1="281.0" y1="355.6" x2="281.0" y2="360.20000000000005" stroke="#000" stroke-width="1.3"/>
<line x1="288.7214193887811" y1="355.6" x2="288.7214193887811" y2="358.6" stroke="#111" stroke-width="1.1"/>
<line x1="293.23816018355933" y1="355.6" x2="293.23816018355933" y2="358.6" stroke="#111" stroke-width="1.1"/>
<line x1="296.44283877756226" y1="355.6" x2="296.44283877756226" y2="358.6" stroke="#111" stroke-width="1.1"/>
<line x1="298.9285806112189" y1="355.6" x2="298.9285806112189" y2="358.6" stroke="#111" stroke-width="1.1"/>
<line x1="300.9595795723405" y1="355.6" x2="300.9595795723405" y2="358.6" stroke="#111" stroke-width="1.1"/>
<line x1="302.6767647263657" y1="355.6" x2="302.6767647263657" y2="358.6" stroke="#111" stroke-width="1.1"/>
<line x1="304.16425816634336" y1="355.6" x2="304.16425816634336" y2="358.6" stroke="#111" stroke-width="1.1"/>
<line x1="305.47632036711866" y1="355.6" x2="305.47632036711866" y2="358.6" stroke="#111" stroke-width="1.1"/>
<line x1="306.65" y1="355.6" x2="306.65" y2="360.20000000000005" stroke="#000" stroke-width="1.3"/>
<line x1="314.37141938878113" y1="355.6" x2="314.37141938878113" y2="358.6" stroke="#111" stroke-width="1.1"/>
<line x1="318.88816018355936" y1="355.6" x2="318.88816018355936" y2="358.6" stroke="#111" stroke-width="1.1"/>
<line x1="322.09283877756224" y1="355.6" x2="322.09283877756224" y2="358.6" stroke="#111" stroke-width="1.1"/>
<line x1="324.5785806112189" y1="355.6" x2="324.5785806112189" y2="358.6" stroke="#111" stroke-width="1.1"/>
<line x1="326.60957957234046" y1="355.6" x2="326.60957957234046" y2="358.6" stroke="#111" stroke-width="1.1"/>
<line x1="328.3267647263657" y1="355.6" x2="328.3267647263657" y2="358.6" stroke="#111" stroke-width="1.1"/>
<line x1="329.8142581663434" y1="355.6" x2="329.8142581663434" y2="358.6" stroke="#111" stroke-width="1.1"/>
<line x1="331.1263203671187" y1="355.6" x2="331.1263203671187" y2="358.6" stroke="#111" stroke-width="1.1"/>
<line x1="332.3" y1="355.6" x2="332.3" y2="360.20000000000005" stroke="#000" stroke-width="1.3"/>
<line x1="340.0214193887811" y1="355.6" x2="340.0214193887811" y2="358.6" stroke="#111" stroke-width="1.1"/>
<line x1="344.53816018355934" y1="355.6" x2="344.53816018355934" y2="358.6" stroke="#111" stroke-width="1.1"/>
<line x1="347.74283877756227" y1="355.6" x2="347.74283877756227" y2="358.6" stroke="#111" stroke-width="1.1"/>
<line x1="350.2285806112189" y1="355.6" x2="350.2285806112189" y2="358.6" stroke="#111" stroke-width="1.1"/>
<line x1="352.2595795723405" y1="355.6" x2="352.2595795723405" y2="358.6" stroke="#111" stroke-width="1.1"/>
<line x1="353.9767647263657" y1="355.6" x2="353.9767647263657" y2="358.6" stroke="#111" stroke-width="1.1"/>
<line x1="355.46425816634337" y1="355.6" x2="355.46425816634337" y2="358.6" stroke="#111" stroke-width="1.1"/>
<line x1="356.77632036711873" y1="355.6" x2="356.77632036711873" y2="358.6" stroke="#111" stroke-width="1.1"/>
<line x1="357.95000000000005" y1="355.6" x2="357.95000000000005" y2="360.20000000000005" stroke="#000" stroke-width="1.3"/>
<line x1="365.67141938878115" y1="355.6" x2="365.67141938878115" y2="358.6" stroke="#111" stroke-width="1.1"/>
<line x1="370.1881601835594" y1="355.6" x2="370.1881601835594" y2="358.6" stroke="#111" stroke-width="1.1"/>
<line x1="373.39283877756225" y1="355.6" x2="373.39283877756225" y2="358.6" stroke="#111" stroke-width="1.1"/>
<line x1="375.8785806112189" y1="355.6" x2="375.8785806112189" y2="358.6" stroke="#111" stroke-width="1.1"/>
<line x1="377.9095795723405" y1="355.6" x2="377.9095795723405" y2="358.6" stroke="#111" stroke-width="1.1"/>
<line x1="379.6267647263657" y1="355.6" x2="379.6267647263657" y2="358.6" stroke="#111" stroke-width="1.1"/>
<line x1="381.11425816634335" y1="355.6" x2="381.11425816634335" y2="358.6" stroke="#111" stroke-width="1.1"/>
<line x1="382.4263203671187" y1="355.6" x2="382.4263203671187" y2="358.6" stroke="#111" stroke-width="1.1"/>
<line x1="383.6" y1="355.6" x2="383.6" y2="360.40000000000003" stroke="#000" stroke-width="1.3"/>
<text x="279.4" y="370.7" font-size="10.3" font-weight="normal" font-style="normal" text-anchor="middle" fill="#111" textLength="8.1" lengthAdjust="spacingAndGlyphs" stroke="#111" stroke-width="0.55">10</text>
<text x="285.9" y="365.5" font-size="9.4" font-weight="normal" font-style="normal" text-anchor="middle" fill="#111" textLength="4.4" lengthAdjust="spacingAndGlyphs" stroke="#111" stroke-width="0.45">0</text>
<text x="305.04999999999995" y="370.7" font-size="10.3" font-weight="normal" font-style="normal" text-anchor="middle" fill="#111" textLength="8.1" lengthAdjust="spacingAndGlyphs" stroke="#111" stroke-width="0.55">10</text>
<text x="311.54999999999995" y="365.5" font-size="9.4" font-weight="normal" font-style="normal" text-anchor="middle" fill="#111" textLength="4.4" lengthAdjust="spacingAndGlyphs" stroke="#111" stroke-width="0.45">1</text>
<text x="330.7" y="370.7" font-size="10.3" font-weight="normal" font-style="normal" text-anchor="middle" fill="#111" textLength="8.1" lengthAdjust="spacingAndGlyphs" stroke="#111" stroke-width="0.55">10</text>
<text x="337.2" y="365.5" font-size="9.4" font-weight="normal" font-style="normal" text-anchor="middle" fill="#111" textLength="4.4" lengthAdjust="spacingAndGlyphs" stroke="#111" stroke-width="0.45">2</text>
<text x="356.35" y="370.7" font-size="10.3" font-weight="normal" font-style="normal" text-anchor="middle" fill="#111" textLength="8.1" lengthAdjust="spacingAndGlyphs" stroke="#111" stroke-width="0.55">10</text>
<text x="362.85" y="365.5" font-size="9.4" font-weight="normal" font-style="normal" text-anchor="middle" fill="#111" textLength="4.4" lengthAdjust="spacingAndGlyphs" stroke="#111" stroke-width="0.45">3</text>
<text x="382.0" y="370.7" font-size="10.3" font-weight="normal" font-style="normal" text-anchor="middle" fill="#111" textLength="8.1" lengthAdjust="spacingAndGlyphs" stroke="#111" stroke-width="0.55">10</text>
<text x="388.5" y="365.5" font-size="9.4" font-weight="normal" font-style="normal" text-anchor="middle" fill="#111" textLength="4.4" lengthAdjust="spacingAndGlyphs" stroke="#111" stroke-width="0.45">4</text>
<text transform="translate(274.1,278.8) rotate(-90)" font-size="10" text-anchor="middle" fill="#111" stroke="#111" stroke-width="0.35" textLength="12.9" lengthAdjust="spacingAndGlyphs">180</text>
<text transform="translate(273.6,354.70000000000005) rotate(-90)" font-size="9.2" text-anchor="middle" fill="#111" stroke="#111" stroke-width="0.35" textLength="4.4" lengthAdjust="spacingAndGlyphs">0</text>
<text x="461.9" y="267.9" font-size="10.1" font-weight="bold" font-style="italic" text-anchor="middle" fill="#111" textLength="37.5" lengthAdjust="spacingAndGlyphs" stroke="#111" stroke-width="0.3">T3 cells</text>
<path d="M409.8,355.6 L409.8,278.6 L511.9,278.6 L511.9,355.6" fill="none" stroke="#000" stroke-width="1.3"/>
<line x1="409.2" y1="355.6" x2="512.5" y2="355.6" stroke="#000" stroke-width="2.0"/>
<line x1="405.0" y1="355.6" x2="409.8" y2="355.6" stroke="#000" stroke-width="1.2"/>
<line x1="407.2" y1="354.31666666666666" x2="409.8" y2="354.31666666666666" stroke="#000" stroke-width="0.8"/>
<line x1="407.2" y1="353.03333333333336" x2="409.8" y2="353.03333333333336" stroke="#000" stroke-width="0.8"/>
<line x1="407.2" y1="351.75" x2="409.8" y2="351.75" stroke="#000" stroke-width="0.8"/>
<line x1="407.2" y1="350.4666666666667" x2="409.8" y2="350.4666666666667" stroke="#000" stroke-width="0.8"/>
<line x1="407.2" y1="349.18333333333334" x2="409.8" y2="349.18333333333334" stroke="#000" stroke-width="0.8"/>
<line x1="407.2" y1="347.90000000000003" x2="409.8" y2="347.90000000000003" stroke="#000" stroke-width="0.8"/>
<line x1="407.2" y1="346.6166666666667" x2="409.8" y2="346.6166666666667" stroke="#000" stroke-width="0.8"/>
<line x1="407.2" y1="345.33333333333337" x2="409.8" y2="345.33333333333337" stroke="#000" stroke-width="0.8"/>
<line x1="407.2" y1="344.05" x2="409.8" y2="344.05" stroke="#000" stroke-width="0.8"/>
<line x1="405.0" y1="342.7666666666667" x2="409.8" y2="342.7666666666667" stroke="#000" stroke-width="1.2"/>
<line x1="407.2" y1="341.48333333333335" x2="409.8" y2="341.48333333333335" stroke="#000" stroke-width="0.8"/>
<line x1="407.2" y1="340.20000000000005" x2="409.8" y2="340.20000000000005" stroke="#000" stroke-width="0.8"/>
<line x1="407.2" y1="338.9166666666667" x2="409.8" y2="338.9166666666667" stroke="#000" stroke-width="0.8"/>
<line x1="407.2" y1="337.6333333333334" x2="409.8" y2="337.6333333333334" stroke="#000" stroke-width="0.8"/>
<line x1="407.2" y1="336.35" x2="409.8" y2="336.35" stroke="#000" stroke-width="0.8"/>
<line x1="407.2" y1="335.06666666666666" x2="409.8" y2="335.06666666666666" stroke="#000" stroke-width="0.8"/>
<line x1="407.2" y1="333.78333333333336" x2="409.8" y2="333.78333333333336" stroke="#000" stroke-width="0.8"/>
<line x1="407.2" y1="332.5" x2="409.8" y2="332.5" stroke="#000" stroke-width="0.8"/>
<line x1="407.2" y1="331.2166666666667" x2="409.8" y2="331.2166666666667" stroke="#000" stroke-width="0.8"/>
<line x1="405.0" y1="329.93333333333334" x2="409.8" y2="329.93333333333334" stroke="#000" stroke-width="1.2"/>
<line x1="407.2" y1="328.65000000000003" x2="409.8" y2="328.65000000000003" stroke="#000" stroke-width="0.8"/>
<line x1="407.2" y1="327.3666666666667" x2="409.8" y2="327.3666666666667" stroke="#000" stroke-width="0.8"/>
<line x1="407.2" y1="326.08333333333337" x2="409.8" y2="326.08333333333337" stroke="#000" stroke-width="0.8"/>
<line x1="407.2" y1="324.8" x2="409.8" y2="324.8" stroke="#000" stroke-width="0.8"/>
<line x1="407.2" y1="323.5166666666667" x2="409.8" y2="323.5166666666667" stroke="#000" stroke-width="0.8"/>
<line x1="407.2" y1="322.23333333333335" x2="409.8" y2="322.23333333333335" stroke="#000" stroke-width="0.8"/>
<line x1="407.2" y1="320.95000000000005" x2="409.8" y2="320.95000000000005" stroke="#000" stroke-width="0.8"/>
<line x1="407.2" y1="319.6666666666667" x2="409.8" y2="319.6666666666667" stroke="#000" stroke-width="0.8"/>
<line x1="407.2" y1="318.3833333333333" x2="409.8" y2="318.3833333333333" stroke="#000" stroke-width="0.8"/>
<line x1="405.0" y1="317.1" x2="409.8" y2="317.1" stroke="#000" stroke-width="1.2"/>
<line x1="407.2" y1="315.8166666666667" x2="409.8" y2="315.8166666666667" stroke="#000" stroke-width="0.8"/>
<line x1="407.2" y1="314.53333333333336" x2="409.8" y2="314.53333333333336" stroke="#000" stroke-width="0.8"/>
<line x1="407.2" y1="313.25" x2="409.8" y2="313.25" stroke="#000" stroke-width="0.8"/>
<line x1="407.2" y1="311.9666666666667" x2="409.8" y2="311.9666666666667" stroke="#000" stroke-width="0.8"/>
<line x1="407.2" y1="310.68333333333334" x2="409.8" y2="310.68333333333334" stroke="#000" stroke-width="0.8"/>
<line x1="407.2" y1="309.40000000000003" x2="409.8" y2="309.40000000000003" stroke="#000" stroke-width="0.8"/>
<line x1="407.2" y1="308.1166666666667" x2="409.8" y2="308.1166666666667" stroke="#000" stroke-width="0.8"/>
<line x1="407.2" y1="306.83333333333337" x2="409.8" y2="306.83333333333337" stroke="#000" stroke-width="0.8"/>
<line x1="407.2" y1="305.55" x2="409.8" y2="305.55" stroke="#000" stroke-width="0.8"/>
<line x1="405.0" y1="304.2666666666667" x2="409.8" y2="304.2666666666667" stroke="#000" stroke-width="1.2"/>
<line x1="407.2" y1="302.98333333333335" x2="409.8" y2="302.98333333333335" stroke="#000" stroke-width="0.8"/>
<line x1="407.2" y1="301.70000000000005" x2="409.8" y2="301.70000000000005" stroke="#000" stroke-width="0.8"/>
<line x1="407.2" y1="300.4166666666667" x2="409.8" y2="300.4166666666667" stroke="#000" stroke-width="0.8"/>
<line x1="407.2" y1="299.1333333333333" x2="409.8" y2="299.1333333333333" stroke="#000" stroke-width="0.8"/>
<line x1="407.2" y1="297.85" x2="409.8" y2="297.85" stroke="#000" stroke-width="0.8"/>
<line x1="407.2" y1="296.5666666666667" x2="409.8" y2="296.5666666666667" stroke="#000" stroke-width="0.8"/>
<line x1="407.2" y1="295.28333333333336" x2="409.8" y2="295.28333333333336" stroke="#000" stroke-width="0.8"/>
<line x1="407.2" y1="294.0" x2="409.8" y2="294.0" stroke="#000" stroke-width="0.8"/>
<line x1="407.2" y1="292.7166666666667" x2="409.8" y2="292.7166666666667" stroke="#000" stroke-width="0.8"/>
<line x1="405.0" y1="291.43333333333334" x2="409.8" y2="291.43333333333334" stroke="#000" stroke-width="1.2"/>
<line x1="407.2" y1="290.15000000000003" x2="409.8" y2="290.15000000000003" stroke="#000" stroke-width="0.8"/>
<line x1="407.2" y1="288.8666666666667" x2="409.8" y2="288.8666666666667" stroke="#000" stroke-width="0.8"/>
<line x1="407.2" y1="287.58333333333337" x2="409.8" y2="287.58333333333337" stroke="#000" stroke-width="0.8"/>
<line x1="407.2" y1="286.3" x2="409.8" y2="286.3" stroke="#000" stroke-width="0.8"/>
<line x1="407.2" y1="285.0166666666667" x2="409.8" y2="285.0166666666667" stroke="#000" stroke-width="0.8"/>
<line x1="407.2" y1="283.73333333333335" x2="409.8" y2="283.73333333333335" stroke="#000" stroke-width="0.8"/>
<line x1="407.2" y1="282.45000000000005" x2="409.8" y2="282.45000000000005" stroke="#000" stroke-width="0.8"/>
<line x1="407.2" y1="281.1666666666667" x2="409.8" y2="281.1666666666667" stroke="#000" stroke-width="0.8"/>
<line x1="407.2" y1="279.8833333333333" x2="409.8" y2="279.8833333333333" stroke="#000" stroke-width="0.8"/>
<line x1="405.0" y1="278.6" x2="409.8" y2="278.6" stroke="#000" stroke-width="1.2"/>
<line x1="409.8" y1="355.6" x2="409.8" y2="360.20000000000005" stroke="#000" stroke-width="1.3"/>
<line x1="417.4837906393231" y1="355.6" x2="417.4837906393231" y2="358.6" stroke="#111" stroke-width="1.1"/>
<line x1="421.97852002671937" y1="355.6" x2="421.97852002671937" y2="358.6" stroke="#111" stroke-width="1.1"/>
<line x1="425.16758127864625" y1="355.6" x2="425.16758127864625" y2="358.6" stroke="#111" stroke-width="1.1"/>
<line x1="427.6412093606769" y1="355.6" x2="427.6412093606769" y2="358.6" stroke="#111" stroke-width="1.1"/>
<line x1="429.6623106660425" y1="355.6" x2="429.6623106660425" y2="358.6" stroke="#111" stroke-width="1.1"/>
<line x1="431.37112747136393" y1="355.6" x2="431.37112747136393" y2="358.6" stroke="#111" stroke-width="1.1"/>
<line x1="432.85137191796935" y1="355.6" x2="432.85137191796935" y2="358.6" stroke="#111" stroke-width="1.1"/>
<line x1="434.1570400534388" y1="355.6" x2="434.1570400534388" y2="358.6" stroke="#111" stroke-width="1.1"/>
<line x1="435.325" y1="355.6" x2="435.325" y2="360.20000000000005" stroke="#000" stroke-width="1.3"/>
<line x1="443.00879063932314" y1="355.6" x2="443.00879063932314" y2="358.6" stroke="#111" stroke-width="1.1"/>
<line x1="447.5035200267194" y1="355.6" x2="447.5035200267194" y2="358.6" stroke="#111" stroke-width="1.1"/>
<line x1="450.69258127864623" y1="355.6" x2="450.69258127864623" y2="358.6" stroke="#111" stroke-width="1.1"/>
<line x1="453.1662093606769" y1="355.6" x2="453.1662093606769" y2="358.6" stroke="#111" stroke-width="1.1"/>
<line x1="455.1873106660425" y1="355.6" x2="455.1873106660425" y2="358.6" stroke="#111" stroke-width="1.1"/>
<line x1="456.8961274713639" y1="355.6" x2="456.8961274713639" y2="358.6" stroke="#111" stroke-width="1.1"/>
<line x1="458.3763719179693" y1="355.6" x2="458.3763719179693" y2="358.6" stroke="#111" stroke-width="1.1"/>
<line x1="459.68204005343875" y1="355.6" x2="459.68204005343875" y2="358.6" stroke="#111" stroke-width="1.1"/>
<line x1="460.85" y1="355.6" x2="460.85" y2="360.20000000000005" stroke="#000" stroke-width="1.3"/>
<line x1="468.5337906393231" y1="355.6" x2="468.5337906393231" y2="358.6" stroke="#111" stroke-width="1.1"/>
<line x1="473.0285200267194" y1="355.6" x2="473.0285200267194" y2="358.6" stroke="#111" stroke-width="1.1"/>
<line x1="476.2175812786462" y1="355.6" x2="476.2175812786462" y2="358.6" stroke="#111" stroke-width="1.1"/>
<line x1="478.69120936067685" y1="355.6" x2="478.69120936067685" y2="358.6" stroke="#111" stroke-width="1.1"/>
<line x1="480.7123106660425" y1="355.6" x2="480.7123106660425" y2="358.6" stroke="#111" stroke-width="1.1"/>
<line x1="482.4211274713639" y1="355.6" x2="482.4211274713639" y2="358.6" stroke="#111" stroke-width="1.1"/>
<line x1="483.90137191796936" y1="355.6" x2="483.90137191796936" y2="358.6" stroke="#111" stroke-width="1.1"/>
<line x1="485.20704005343873" y1="355.6" x2="485.20704005343873" y2="358.6" stroke="#111" stroke-width="1.1"/>
<line x1="486.375" y1="355.6" x2="486.375" y2="360.20000000000005" stroke="#000" stroke-width="1.3"/>
<line x1="494.0587906393231" y1="355.6" x2="494.0587906393231" y2="358.6" stroke="#111" stroke-width="1.1"/>
<line x1="498.55352002671935" y1="355.6" x2="498.55352002671935" y2="358.6" stroke="#111" stroke-width="1.1"/>
<line x1="501.74258127864624" y1="355.6" x2="501.74258127864624" y2="358.6" stroke="#111" stroke-width="1.1"/>
<line x1="504.2162093606769" y1="355.6" x2="504.2162093606769" y2="358.6" stroke="#111" stroke-width="1.1"/>
<line x1="506.2373106660425" y1="355.6" x2="506.2373106660425" y2="358.6" stroke="#111" stroke-width="1.1"/>
<line x1="507.94612747136387" y1="355.6" x2="507.94612747136387" y2="358.6" stroke="#111" stroke-width="1.1"/>
<line x1="509.42637191796933" y1="355.6" x2="509.42637191796933" y2="358.6" stroke="#111" stroke-width="1.1"/>
<line x1="510.7320400534387" y1="355.6" x2="510.7320400534387" y2="358.6" stroke="#111" stroke-width="1.1"/>
<line x1="511.9" y1="355.6" x2="511.9" y2="360.40000000000003" stroke="#000" stroke-width="1.3"/>
<text x="408.2" y="370.7" font-size="10.3" font-weight="normal" font-style="normal" text-anchor="middle" fill="#111" textLength="8.1" lengthAdjust="spacingAndGlyphs" stroke="#111" stroke-width="0.55">10</text>
<text x="414.7" y="365.5" font-size="9.4" font-weight="normal" font-style="normal" text-anchor="middle" fill="#111" textLength="4.4" lengthAdjust="spacingAndGlyphs" stroke="#111" stroke-width="0.45">0</text>
<text x="433.72499999999997" y="370.7" font-size="10.3" font-weight="normal" font-style="normal" text-anchor="middle" fill="#111" textLength="8.1" lengthAdjust="spacingAndGlyphs" stroke="#111" stroke-width="0.55">10</text>
<text x="440.22499999999997" y="365.5" font-size="9.4" font-weight="normal" font-style="normal" text-anchor="middle" fill="#111" textLength="4.4" lengthAdjust="spacingAndGlyphs" stroke="#111" stroke-width="0.45">1</text>
<text x="459.25" y="370.7" font-size="10.3" font-weight="normal" font-style="normal" text-anchor="middle" fill="#111" textLength="8.1" lengthAdjust="spacingAndGlyphs" stroke="#111" stroke-width="0.55">10</text>
<text x="465.75" y="365.5" font-size="9.4" font-weight="normal" font-style="normal" text-anchor="middle" fill="#111" textLength="4.4" lengthAdjust="spacingAndGlyphs" stroke="#111" stroke-width="0.45">2</text>
<text x="484.775" y="370.7" font-size="10.3" font-weight="normal" font-style="normal" text-anchor="middle" fill="#111" textLength="8.1" lengthAdjust="spacingAndGlyphs" stroke="#111" stroke-width="0.55">10</text>
<text x="491.275" y="365.5" font-size="9.4" font-weight="normal" font-style="normal" text-anchor="middle" fill="#111" textLength="4.4" lengthAdjust="spacingAndGlyphs" stroke="#111" stroke-width="0.45">3</text>
<text x="510.29999999999995" y="370.7" font-size="10.3" font-weight="normal" font-style="normal" text-anchor="middle" fill="#111" textLength="8.1" lengthAdjust="spacingAndGlyphs" stroke="#111" stroke-width="0.55">10</text>
<text x="516.8" y="365.5" font-size="9.4" font-weight="normal" font-style="normal" text-anchor="middle" fill="#111" textLength="4.4" lengthAdjust="spacingAndGlyphs" stroke="#111" stroke-width="0.45">4</text>
<text transform="translate(402.90000000000003,278.8) rotate(-90)" font-size="10" text-anchor="middle" fill="#111" stroke="#111" stroke-width="0.35" textLength="12.9" lengthAdjust="spacingAndGlyphs">180</text>
<text transform="translate(402.40000000000003,354.70000000000005) rotate(-90)" font-size="9.2" text-anchor="middle" fill="#111" stroke="#111" stroke-width="0.35" textLength="4.4" lengthAdjust="spacingAndGlyphs">0</text>
<polyline points="18.60,355.00 18.60,353.10 21.00,347.60 22.90,338.00 23.70,325.80 24.70,311.30 25.70,296.80 26.50,285.90 27.10,279.20 32.00,279.20 32.60,289.50 33.20,300.40 34.10,311.30 35.00,321.00 36.20,329.50 38.00,339.20 40.40,346.40 44.10,351.90 47.70,354.30 52.00,355.00" fill="none" stroke="#3a3a3a" stroke-width="1.4" stroke-linejoin="round" stroke-dasharray="1.1 1.0"/>
<polyline points="52.00,355.00 60.00,354.80 64.00,354.20 69.50,350.00 74.50,340.00 78.00,326.00 80.30,317.00 81.60,310.00 82.60,304.00 83.40,298.60 89.50,298.60 90.00,304.00 90.60,310.00 92.00,325.00 95.50,340.00 98.50,350.00 102.00,354.60 106.00,355.20" fill="none" stroke="#454545" stroke-width="2.4" stroke-linejoin="round"/>
<rect x="83.4" y="298.0" width="6.3" height="4.6" fill="#444" stroke="none" stroke-width="1"/>
<rect x="85.2" y="300.8" width="1.7" height="2.6" fill="#fff" stroke="none" stroke-width="1"/>
<polyline points="172.50,354.40 179.80,353.90 186.30,352.90 191.20,352.30 194.50,350.60 198.60,349.00 201.10,349.70 203.50,346.10 205.10,344.40 206.80,345.20 209.20,341.20 211.70,337.90 214.10,333.80 216.60,330.00 219.00,329.40 221.50,329.40 223.90,330.90 227.20,331.30 229.70,330.00 231.30,328.10 232.90,329.70 234.60,333.00 236.20,337.90 238.70,343.60 241.10,348.50 243.60,351.30 246.80,351.30 250.10,353.40 252.30,355.00" fill="none" stroke="#454545" stroke-width="2.2" stroke-linejoin="round"/>
<polyline points="151.50,350.00 152.60,340.00 154.00,330.00 155.20,318.00 156.80,306.00 157.60,296.00 158.10,286.00 158.80,280.50 161.20,280.50 161.60,290.00 162.60,300.00 163.40,310.00 164.50,322.00 165.50,332.00" fill="none" stroke="#666" stroke-width="1.1" stroke-linejoin="round" stroke-dasharray="1 1"/>
<polyline points="149.80,352.00 150.30,345.30 151.10,340.20 152.40,334.20 153.70,325.60 154.50,317.10 155.80,308.50 156.30,300.00 156.20,296.00 156.60,290.00 156.80,283.50 157.90,279.40 162.20,279.40 162.60,285.00 163.00,296.20 164.40,300.00 164.80,308.50 165.70,317.10 166.50,325.60 167.40,334.20 168.40,342.70 169.50,349.60 170.80,353.00 172.50,354.30 178.00,354.60" fill="none" stroke="#000" stroke-width="1.3" stroke-linejoin="round"/>
<polyline points="282.00,355.00 286.00,354.50 288.90,352.60 292.50,347.70 296.20,345.30 299.80,345.90 302.20,344.10 305.00,344.80 308.30,343.20 312.40,342.30 315.70,341.20 318.20,341.50 320.70,339.80 323.20,337.40 325.60,334.90 328.10,333.60 329.80,331.90 332.20,333.60 335.60,334.60 339.70,335.20 343.00,335.70 345.50,333.20 347.10,332.90 349.60,335.70 352.90,339.00 356.20,341.50 359.50,344.80 362.80,347.30 366.10,349.80 369.50,351.80 372.80,353.10 377.70,353.90 381.00,354.70 383.60,355.30" fill="none" stroke="#454545" stroke-width="2.2" stroke-linejoin="round"/>
<polyline points="297.40,296.00 298.00,302.00 298.80,310.00 299.60,318.00 300.60,326.00 302.00,334.00 303.60,341.00" fill="none" stroke="#666" stroke-width="1.1" stroke-linejoin="round" stroke-dasharray="1 1"/>
<polyline points="281.60,352.00 281.60,345.30 283.50,335.60 285.30,322.00 286.50,317.00 287.10,310.50 288.10,305.40 288.40,301.00 288.70,292.90 289.00,286.70 290.00,279.40 296.30,279.40 296.50,287.30 297.80,293.50 299.00,296.00 300.00,304.80 300.60,313.60 301.50,319.90 302.20,326.00 303.70,336.80 305.30,345.30 307.70,350.80 310.70,353.30 316.50,353.90 330.00,354.60" fill="none" stroke="#000" stroke-width="1.3" stroke-linejoin="round"/>
<polyline points="410.50,355.00 411.40,350.10 413.30,348.20 415.70,347.60 418.10,348.20 421.70,348.80 425.40,349.10 429.00,348.80 432.60,348.20 435.70,347.40 438.70,347.00 441.40,344.90 444.30,344.20 447.10,342.00 450.00,339.90 452.10,337.80 453.50,334.90 455.70,332.80 457.80,329.90 459.90,328.50 462.10,325.70 463.50,326.40 465.60,327.10 467.70,327.80 469.90,325.20 471.30,324.70 473.40,327.10 475.60,330.70 477.70,334.90 479.80,339.90 482.00,344.20 484.10,347.40 487.00,349.90 489.80,351.70 494.10,352.70 499.80,353.10 505.50,353.40 511.50,354.80" fill="none" stroke="#454545" stroke-width="2.2" stroke-linejoin="round"/>
<polyline points="422.60,283.50 424.60,288.00 426.20,292.50 428.40,296.00 430.60,300.50 433.00,306.00 435.40,312.00 437.40,319.00 439.00,327.00 440.60,334.00" fill="none" stroke="#777" stroke-width="1.1" stroke-linejoin="round" stroke-dasharray="1 1"/>
<polyline points="410.30,352.00 411.50,338.00 412.70,325.80 414.50,315.00 416.30,302.80 418.10,290.70 419.90,284.10 421.10,281.70 423.00,285.30 424.80,290.70 426.60,295.00 429.00,298.60 431.40,305.30 433.80,311.30 436.30,318.60 438.10,327.10 439.90,335.50 442.30,344.00 444.70,348.80 447.80,351.90 452.00,353.70 456.00,354.50 470.00,355.00" fill="none" stroke="#000" stroke-width="1.3" stroke-linejoin="round"/>
<line x1="159.5" y1="387.6" x2="177.9" y2="387.6" stroke="#888" stroke-width="1.1"/>
<line x1="159.5" y1="406.0" x2="177.9" y2="406.0" stroke="#454545" stroke-width="2.6"/>
<text x="187" y="392.4" font-size="10" font-weight="bold" font-style="italic" text-anchor="start" fill="#111" textLength="32.4" lengthAdjust="spacingAndGlyphs" stroke="#111" stroke-width="0.3">C1RA2</text>
<text x="187" y="410.2" font-size="10" font-weight="bold" font-style="italic" text-anchor="start" fill="#111" textLength="57.1" lengthAdjust="spacingAndGlyphs" stroke="#111" stroke-width="0.3">C1RA2-DCS</text>
<line x1="300.1" y1="387.6" x2="318.1" y2="387.6" stroke="#222" stroke-width="1.1"/>
<line x1="300.1" y1="406.0" x2="318.1" y2="406.0" stroke="#454545" stroke-width="2.6"/>
<text x="326.1" y="392.4" font-size="10" font-weight="bold" font-style="italic" text-anchor="start" fill="#111" textLength="11.4" lengthAdjust="spacingAndGlyphs" stroke="#111" stroke-width="0.3">T2</text>
<text x="326.1" y="410.2" font-size="10" font-weight="bold" font-style="italic" text-anchor="start" fill="#111" textLength="36.8" lengthAdjust="spacingAndGlyphs" stroke="#111" stroke-width="0.3">T2-DCS</text>
<line x1="426.5" y1="387.6" x2="443.8" y2="387.6" stroke="#222" stroke-width="1.1"/>
<line x1="426.5" y1="406.0" x2="443.8" y2="406.0" stroke="#454545" stroke-width="2.6"/>
<text x="453.4" y="392.4" font-size="10" font-weight="bold" font-style="italic" text-anchor="start" fill="#111" textLength="11.2" lengthAdjust="spacingAndGlyphs" stroke="#111" stroke-width="0.3">T3</text>
<text x="453.4" y="410.2" font-size="10" font-weight="bold" font-style="italic" text-anchor="start" fill="#111" textLength="35.9" lengthAdjust="spacingAndGlyphs" stroke="#111" stroke-width="0.3">T3-DCS</text>
<line x1="58.7" y1="485.8" x2="58.7" y2="656.6" stroke="#3a3a3a" stroke-width="1.5"/>
<line x1="55.5" y1="654.1" x2="251.6" y2="654.1" stroke="#555" stroke-width="1.5"/>
<line x1="55.2" y1="654.2" x2="58.7" y2="654.2" stroke="#777" stroke-width="1.2"/>
<text x="48.9" y="658.8000000000001" font-size="11.2" font-weight="normal" font-style="normal" text-anchor="end" fill="#111" textLength="6.977600000000002" lengthAdjust="spacingAndGlyphs">0</text>
<line x1="55.2" y1="622.95" x2="58.7" y2="622.95" stroke="#777" stroke-width="1.2"/>
<text x="48.9" y="627.5500000000001" font-size="11.2" font-weight="normal" font-style="normal" text-anchor="end" fill="#111" textLength="17.4384" lengthAdjust="spacingAndGlyphs">0.5</text>
<line x1="55.2" y1="591.7" x2="58.7" y2="591.7" stroke="#777" stroke-width="1.2"/>
<text x="48.9" y="596.3000000000001" font-size="11.2" font-weight="normal" font-style="normal" text-anchor="end" fill="#111" textLength="17.4384" lengthAdjust="spacingAndGlyphs">1.0</text>
<line x1="55.2" y1="560.45" x2="58.7" y2="560.45" stroke="#777" stroke-width="1.2"/>
<text x="48.9" y="565.0500000000001" font-size="11.2" font-weight="normal" font-style="normal" text-anchor="end" fill="#111" textLength="17.4384" lengthAdjust="spacingAndGlyphs">1.5</text>
<line x1="55.2" y1="529.2" x2="58.7" y2="529.2" stroke="#777" stroke-width="1.2"/>
<text x="48.9" y="533.8000000000001" font-size="11.2" font-weight="normal" font-style="normal" text-anchor="end" fill="#111" textLength="17.4384" lengthAdjust="spacingAndGlyphs">2.0</text>
<line x1="55.2" y1="497.95000000000005" x2="58.7" y2="497.95000000000005" stroke="#777" stroke-width="1.2"/>
<text x="48.9" y="502.55000000000007" font-size="11.2" font-weight="normal" font-style="normal" text-anchor="end" fill="#111" textLength="17.4384" lengthAdjust="spacingAndGlyphs">2.5</text>
<line x1="155.4" y1="654.1" x2="155.4" y2="657.0" stroke="#888" stroke-width="1.1"/>
<line x1="251.4" y1="654.1" x2="251.4" y2="657.0" stroke="#888" stroke-width="1.1"/>
<rect x="72.2" y="652.6" width="35.1" height="1.5" fill="#000" stroke="none" stroke-width="1"/>
<rect x="107.4" y="642.9" width="35.2" height="11.2" fill="#fff" stroke="#000" stroke-width="1.2"/>
<rect x="168.3" y="637.5" width="35.3" height="16.6" fill="#000" stroke="none" stroke-width="1"/>
<rect x="203.6" y="505.5" width="35.0" height="148.6" fill="#fff" stroke="#000" stroke-width="1.2"/>
<line x1="122.1" y1="642.6" x2="127.3" y2="642.6" stroke="#000" stroke-width="1.6"/>
<line x1="183.3" y1="636.4" x2="189" y2="636.4" stroke="#000" stroke-width="1.5"/>
<line x1="221.2" y1="494.7" x2="221.2" y2="516.6" stroke="#000" stroke-width="1.3"/>
<line x1="218.39999999999998" y1="494.7" x2="224.0" y2="494.7" stroke="#000" stroke-width="1.3"/>
<line x1="218.39999999999998" y1="516.6" x2="224.0" y2="516.6" stroke="#000" stroke-width="1.3"/>
<text x="103.4" y="674.0" font-size="10.3" font-weight="bold" font-style="normal" text-anchor="middle" fill="#111" textLength="16.1" lengthAdjust="spacingAndGlyphs" stroke="#111" stroke-width="0.28">low</text>
<text x="203.6" y="674.0" font-size="10.3" font-weight="bold" font-style="normal" text-anchor="middle" fill="#111" textLength="20.2" lengthAdjust="spacingAndGlyphs" stroke="#111" stroke-width="0.28">high</text>
<text x="151.4" y="695.0" font-size="10.3" font-weight="bold" font-style="normal" text-anchor="middle" fill="#111" textLength="52" lengthAdjust="spacingAndGlyphs" stroke="#111" stroke-width="0.28">Virus input</text>
<text transform="translate(16.4,568.5) rotate(-90)" x="0" y="0" font-size="10" font-weight="bold" text-anchor="middle" fill="#111" stroke="#111" stroke-width="0.28" textLength="38.4" lengthAdjust="spacingAndGlyphs">p24 (ng)</text>
<rect x="117.2" y="456.5" width="12.3" height="11.6" fill="#000" stroke="#777" stroke-width="1.8"/>
<rect x="117.0" y="479.4" width="12.6" height="11.2" fill="#fff" stroke="#555" stroke-width="1.3"/>
<text x="136.2" y="465.8" font-size="10" font-weight="bold" font-style="italic" text-anchor="start" fill="#111" textLength="32.1" lengthAdjust="spacingAndGlyphs" stroke="#111" stroke-width="0.3">C1RA2</text>
<text x="136.2" y="489.6" font-size="10" font-weight="bold" font-style="italic" text-anchor="start" fill="#111" textLength="57.1" lengthAdjust="spacingAndGlyphs" stroke="#111" stroke-width="0.3">C1RA2-DCS</text>
<line x1="323.3" y1="486" x2="323.3" y2="656.0" stroke="#555" stroke-width="1.5"/>
<line x1="320.0" y1="652.9" x2="508.0" y2="652.9" stroke="#555" stroke-width="1.5"/>
<line x1="320.0" y1="653.1" x2="323.3" y2="653.1" stroke="#555" stroke-width="1.2"/>
<text x="315.3" y="658.7" font-size="11.3" font-weight="normal" font-style="normal" text-anchor="end" fill="#111" textLength="6.782400000000001" lengthAdjust="spacingAndGlyphs">0</text>
<line x1="320.0" y1="619.0500000000001" x2="323.3" y2="619.0500000000001" stroke="#555" stroke-width="1.2"/>
<text x="315.3" y="624.6500000000001" font-size="11.3" font-weight="normal" font-style="normal" text-anchor="end" fill="#111" textLength="16.966800000000003" lengthAdjust="spacingAndGlyphs">0.5</text>
<line x1="320.0" y1="585.0" x2="323.3" y2="585.0" stroke="#555" stroke-width="1.2"/>
<text x="315.3" y="590.6" font-size="11.3" font-weight="normal" font-style="normal" text-anchor="end" fill="#111" textLength="16.966800000000003" lengthAdjust="spacingAndGlyphs">1.0</text>
<line x1="320.0" y1="550.95" x2="323.3" y2="550.95" stroke="#555" stroke-width="1.2"/>
<text x="315.3" y="556.5500000000001" font-size="11.3" font-weight="normal" font-style="normal" text-anchor="end" fill="#111" textLength="16.966800000000003" lengthAdjust="spacingAndGlyphs">1.5</text>
<line x1="320.0" y1="516.9000000000001" x2="323.3" y2="516.9000000000001" stroke="#555" stroke-width="1.2"/>
<text x="315.3" y="522.5000000000001" font-size="11.3" font-weight="normal" font-style="normal" text-anchor="end" fill="#111" textLength="16.966800000000003" lengthAdjust="spacingAndGlyphs">2.0</text>
<text x="315.3" y="488.45000000000005" font-size="11.3" font-weight="normal" font-style="normal" text-anchor="end" fill="#111" textLength="16.966800000000003" lengthAdjust="spacingAndGlyphs">2.5</text>
<line x1="384.78000000000003" y1="652.9" x2="384.78000000000003" y2="656.0" stroke="#555" stroke-width="1.2"/>
<line x1="446.26" y1="652.9" x2="446.26" y2="656.0" stroke="#555" stroke-width="1.2"/>
<line x1="507.74" y1="652.9" x2="507.74" y2="656.0" stroke="#555" stroke-width="1.2"/>
<text x="324.2" y="675.4" font-size="10.6" font-weight="normal" font-style="normal" text-anchor="middle" fill="#111">0</text>
<text x="385.68" y="675.4" font-size="10.6" font-weight="normal" font-style="normal" text-anchor="middle" fill="#111">2</text>
<text x="447.15999999999997" y="675.4" font-size="10.6" font-weight="normal" font-style="normal" text-anchor="middle" fill="#111">4</text>
<text x="508.64" y="675.4" font-size="10.6" font-weight="normal" font-style="normal" text-anchor="middle" fill="#111">6</text>
<text x="416.8" y="697.2" font-size="10.6" font-weight="bold" font-style="normal" text-anchor="middle" fill="#111" textLength="104.3" lengthAdjust="spacingAndGlyphs" stroke="#111" stroke-width="0.28">time after exposure (h)</text>
<text transform="translate(278.6,567.7) rotate(-90)" x="0" y="0" font-size="10" font-weight="bold" text-anchor="middle" fill="#111" stroke="#111" stroke-width="0.28" textLength="37.8" lengthAdjust="spacingAndGlyphs">p24 (ng)</text>
<polyline points="322.70,489.75 384.40,560.85 446.80,569.35 507.80,592.10" fill="none" stroke="#000" stroke-width="1.6" stroke-linejoin="round"/>
<polyline points="323.10,626.00 384.90,638.90 447.00,636.70 508.10,635.20" fill="none" stroke="#000" stroke-width="1.6" stroke-linejoin="round"/>
<ellipse cx="322.7" cy="489.75" rx="4.25" ry="5.15" fill="#fff" stroke="#000" stroke-width="1.7"/>
<ellipse cx="384.4" cy="560.85" rx="4.25" ry="5.15" fill="#fff" stroke="#000" stroke-width="1.7"/>
<ellipse cx="446.8" cy="569.35" rx="4.25" ry="5.15" fill="#fff" stroke="#000" stroke-width="1.7"/>
<ellipse cx="507.8" cy="592.1" rx="4.25" ry="5.15" fill="#fff" stroke="#000" stroke-width="1.7"/>
<ellipse cx="323.1" cy="626.0" rx="5.0" ry="5.85" fill="#000"/>
<ellipse cx="384.9" cy="638.9" rx="5.0" ry="5.85" fill="#000"/>
<ellipse cx="447.0" cy="636.7" rx="5.0" ry="5.85" fill="#000"/>
<ellipse cx="508.1" cy="635.2" rx="5.0" ry="5.85" fill="#000"/>
<ellipse cx="452.4" cy="461.3" rx="4.7" ry="5.3" fill="#fff" stroke="#222" stroke-width="1.2"/>
<ellipse cx="452.5" cy="480.0" rx="4.9" ry="5.5" fill="#000" stroke="#666" stroke-width="0.8"/>
<text x="462.0" y="464.4" font-size="9.6" font-weight="bold" font-style="italic" text-anchor="start" fill="#111" textLength="44.2" lengthAdjust="spacingAndGlyphs" stroke="#111" stroke-width="0.3">high input</text>
<text x="462.0" y="482.7" font-size="9.6" font-weight="bold" font-style="italic" text-anchor="start" fill="#111" textLength="39" lengthAdjust="spacingAndGlyphs" stroke="#111" stroke-width="0.3">low input</text>
</svg>
</body></html>
